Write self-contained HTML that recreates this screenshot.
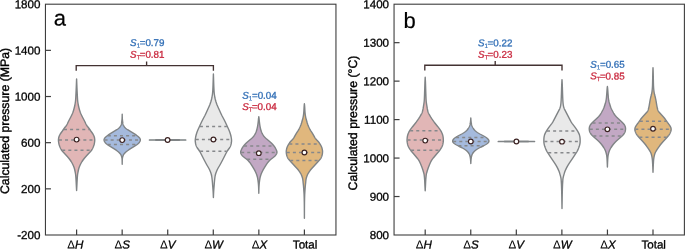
<!DOCTYPE html>
<html><head><meta charset="utf-8"><title>Violin plots</title>
<style>html,body{margin:0;padding:0;background:#fff}svg{display:block}</style></head>
<body>
<svg width="685" height="249" viewBox="0 0 685 249" font-family="'Liberation Sans', Arial, sans-serif" text-rendering="geometricPrecision">
<rect width="685" height="249" fill="#fff"/>
<path d="M76.60,79.00 L76.57,79.50 L76.56,80.00 L76.54,80.50 L76.52,81.00 L76.50,81.50 L76.48,82.00 L76.46,82.50 L76.44,83.00 L76.42,83.50 L76.40,84.00 L76.38,84.50 L76.36,85.00 L76.34,85.50 L76.32,86.00 L76.30,86.50 L76.28,87.00 L76.26,87.50 L76.24,88.00 L76.21,88.50 L76.19,89.00 L76.17,89.50 L76.15,90.00 L76.13,90.50 L76.10,91.00 L76.08,91.50 L76.05,92.00 L76.03,92.50 L76.00,93.00 L75.98,93.50 L75.95,94.00 L75.92,94.50 L75.90,95.00 L75.87,95.50 L75.85,96.00 L75.82,96.50 L75.80,97.00 L75.77,97.50 L75.74,98.00 L75.71,98.50 L75.68,99.00 L75.64,99.50 L75.60,100.00 L75.56,100.50 L75.51,101.00 L75.45,101.50 L75.38,102.00 L75.31,102.50 L75.24,103.00 L75.16,103.50 L75.07,104.00 L74.98,104.50 L74.88,105.00 L74.78,105.50 L74.68,106.00 L74.57,106.50 L74.45,107.00 L74.33,107.50 L74.21,108.00 L74.08,108.50 L73.95,109.00 L73.81,109.50 L73.67,110.00 L73.52,110.50 L73.36,111.00 L73.20,111.50 L73.03,112.00 L72.85,112.50 L72.65,113.00 L72.45,113.50 L72.23,114.00 L72.00,114.50 L71.77,115.00 L71.53,115.50 L71.28,116.00 L71.03,116.50 L70.78,117.00 L70.52,117.50 L70.26,118.00 L69.99,118.50 L69.73,119.00 L69.47,119.50 L69.21,120.00 L68.95,120.50 L68.69,121.00 L68.44,121.50 L68.20,122.00 L67.97,122.50 L67.75,123.00 L67.52,123.50 L67.28,124.00 L67.02,124.50 L66.73,125.00 L66.39,125.50 L66.03,126.00 L65.65,126.50 L65.25,127.00 L64.86,127.50 L64.48,128.00 L64.11,128.50 L63.76,129.00 L63.41,129.50 L63.07,130.00 L62.73,130.50 L62.39,131.00 L62.03,131.50 L61.67,132.00 L61.30,132.50 L60.94,133.00 L60.60,133.50 L60.28,134.00 L59.99,134.50 L59.73,135.00 L59.48,135.50 L59.26,136.00 L59.07,136.50 L58.91,137.00 L58.77,137.50 L58.66,138.00 L58.57,138.50 L58.51,139.00 L58.47,139.50 L58.45,140.00 L58.46,140.50 L58.49,141.00 L58.53,141.50 L58.59,142.00 L58.67,142.50 L58.75,143.00 L58.84,143.50 L58.95,144.00 L59.08,144.50 L59.22,145.00 L59.39,145.50 L59.57,146.00 L59.75,146.50 L59.95,147.00 L60.16,147.50 L60.39,148.00 L60.63,148.50 L60.89,149.00 L61.18,149.50 L61.50,150.00 L61.86,150.50 L62.26,151.00 L62.69,151.50 L63.14,152.00 L63.60,152.50 L64.07,153.00 L64.53,153.50 L65.00,154.00 L65.46,154.50 L65.93,155.00 L66.38,155.50 L66.84,156.00 L67.28,156.50 L67.72,157.00 L68.16,157.50 L68.58,158.00 L68.99,158.50 L69.38,159.00 L69.76,159.50 L70.13,160.00 L70.48,160.50 L70.81,161.00 L71.14,161.50 L71.45,162.00 L71.74,162.50 L72.03,163.00 L72.30,163.50 L72.56,164.00 L72.80,164.50 L73.04,165.00 L73.27,165.50 L73.49,166.00 L73.70,166.50 L73.89,167.00 L74.08,167.50 L74.24,168.00 L74.40,168.50 L74.53,169.00 L74.66,169.50 L74.77,170.00 L74.88,170.50 L74.98,171.00 L75.08,171.50 L75.18,172.00 L75.27,172.50 L75.37,173.00 L75.45,173.50 L75.53,174.00 L75.60,174.50 L75.67,175.00 L75.72,175.50 L75.76,176.00 L75.80,176.50 L75.84,177.00 L75.88,177.50 L75.91,178.00 L75.95,178.50 L75.98,179.00 L76.01,179.50 L76.04,180.00 L76.07,180.50 L76.10,181.00 L76.13,181.50 L76.15,182.00 L76.18,182.50 L76.20,183.00 L76.23,183.50 L76.25,184.00 L76.28,184.50 L76.30,185.00 L76.33,185.50 L76.35,186.00 L76.38,186.50 L76.40,187.00 L76.43,187.50 L76.46,188.00 L76.49,188.50 L76.51,189.00 L76.54,189.50 L76.56,190.00 L76.60,190.50 L76.60,190.50 L76.64,190.00 L76.66,189.50 L76.69,189.00 L76.71,188.50 L76.74,188.00 L76.77,187.50 L76.80,187.00 L76.82,186.50 L76.85,186.00 L76.87,185.50 L76.90,185.00 L76.92,184.50 L76.95,184.00 L76.97,183.50 L77.00,183.00 L77.02,182.50 L77.05,182.00 L77.07,181.50 L77.10,181.00 L77.13,180.50 L77.16,180.00 L77.19,179.50 L77.22,179.00 L77.25,178.50 L77.29,178.00 L77.32,177.50 L77.36,177.00 L77.40,176.50 L77.44,176.00 L77.48,175.50 L77.53,175.00 L77.60,174.50 L77.67,174.00 L77.75,173.50 L77.83,173.00 L77.93,172.50 L78.02,172.00 L78.12,171.50 L78.22,171.00 L78.32,170.50 L78.43,170.00 L78.54,169.50 L78.67,169.00 L78.80,168.50 L78.96,168.00 L79.12,167.50 L79.31,167.00 L79.50,166.50 L79.71,166.00 L79.93,165.50 L80.16,165.00 L80.40,164.50 L80.64,164.00 L80.90,163.50 L81.17,163.00 L81.46,162.50 L81.75,162.00 L82.06,161.50 L82.39,161.00 L82.72,160.50 L83.07,160.00 L83.44,159.50 L83.82,159.00 L84.21,158.50 L84.62,158.00 L85.04,157.50 L85.48,157.00 L85.92,156.50 L86.36,156.00 L86.82,155.50 L87.27,155.00 L87.74,154.50 L88.20,154.00 L88.67,153.50 L89.13,153.00 L89.60,152.50 L90.06,152.00 L90.51,151.50 L90.94,151.00 L91.34,150.50 L91.70,150.00 L92.02,149.50 L92.31,149.00 L92.57,148.50 L92.81,148.00 L93.04,147.50 L93.25,147.00 L93.45,146.50 L93.63,146.00 L93.81,145.50 L93.98,145.00 L94.12,144.50 L94.25,144.00 L94.36,143.50 L94.45,143.00 L94.53,142.50 L94.61,142.00 L94.67,141.50 L94.71,141.00 L94.74,140.50 L94.75,140.00 L94.73,139.50 L94.69,139.00 L94.63,138.50 L94.54,138.00 L94.43,137.50 L94.29,137.00 L94.13,136.50 L93.94,136.00 L93.72,135.50 L93.47,135.00 L93.21,134.50 L92.92,134.00 L92.60,133.50 L92.26,133.00 L91.90,132.50 L91.53,132.00 L91.17,131.50 L90.81,131.00 L90.47,130.50 L90.13,130.00 L89.79,129.50 L89.44,129.00 L89.09,128.50 L88.72,128.00 L88.34,127.50 L87.95,127.00 L87.55,126.50 L87.17,126.00 L86.81,125.50 L86.47,125.00 L86.18,124.50 L85.92,124.00 L85.68,123.50 L85.45,123.00 L85.23,122.50 L85.00,122.00 L84.76,121.50 L84.51,121.00 L84.25,120.50 L83.99,120.00 L83.73,119.50 L83.47,119.00 L83.21,118.50 L82.94,118.00 L82.68,117.50 L82.42,117.00 L82.17,116.50 L81.92,116.00 L81.67,115.50 L81.43,115.00 L81.20,114.50 L80.97,114.00 L80.75,113.50 L80.55,113.00 L80.35,112.50 L80.17,112.00 L80.00,111.50 L79.84,111.00 L79.68,110.50 L79.53,110.00 L79.39,109.50 L79.25,109.00 L79.12,108.50 L78.99,108.00 L78.87,107.50 L78.75,107.00 L78.63,106.50 L78.52,106.00 L78.42,105.50 L78.32,105.00 L78.22,104.50 L78.13,104.00 L78.04,103.50 L77.96,103.00 L77.89,102.50 L77.82,102.00 L77.75,101.50 L77.69,101.00 L77.64,100.50 L77.60,100.00 L77.56,99.50 L77.52,99.00 L77.49,98.50 L77.46,98.00 L77.43,97.50 L77.40,97.00 L77.38,96.50 L77.35,96.00 L77.33,95.50 L77.30,95.00 L77.28,94.50 L77.25,94.00 L77.22,93.50 L77.20,93.00 L77.17,92.50 L77.15,92.00 L77.12,91.50 L77.10,91.00 L77.07,90.50 L77.05,90.00 L77.03,89.50 L77.01,89.00 L76.99,88.50 L76.96,88.00 L76.94,87.50 L76.92,87.00 L76.90,86.50 L76.88,86.00 L76.86,85.50 L76.84,85.00 L76.82,84.50 L76.80,84.00 L76.78,83.50 L76.76,83.00 L76.74,82.50 L76.72,82.00 L76.70,81.50 L76.68,81.00 L76.66,80.50 L76.64,80.00 L76.63,79.50 L76.60,79.00Z" fill="#e1b6b6" stroke="#808486" stroke-width="1.4" stroke-linejoin="round"/>
<line x1="63.98" y1="129.40" x2="89.22" y2="129.40" stroke="#86888b" stroke-width="1.5" stroke-dasharray="3.0 3.1"/>
<line x1="58.95" y1="139.90" x2="94.25" y2="139.90" stroke="#86888b" stroke-width="1.5" stroke-dasharray="3.0 3.1"/>
<line x1="62.22" y1="150.30" x2="90.98" y2="150.30" stroke="#86888b" stroke-width="1.5" stroke-dasharray="3.0 3.1"/>
<circle cx="76.60" cy="139.60" r="2.35" fill="#fff" stroke="#3b2222" stroke-width="1.15"/>
<path d="M122.20,114.20 L122.19,114.70 L122.19,115.20 L122.17,115.70 L122.16,116.20 L122.15,116.70 L122.13,117.20 L122.11,117.70 L122.08,118.20 L122.05,118.70 L122.01,119.20 L121.97,119.70 L121.92,120.20 L121.87,120.70 L121.82,121.20 L121.76,121.70 L121.70,122.20 L121.63,122.70 L121.56,123.20 L121.47,123.70 L121.36,124.20 L121.21,124.70 L121.02,125.20 L120.77,125.70 L120.47,126.20 L120.12,126.70 L119.71,127.20 L119.25,127.70 L118.73,128.20 L118.15,128.70 L117.49,129.20 L116.77,129.70 L116.00,130.20 L115.21,130.70 L114.40,131.20 L113.59,131.70 L112.77,132.20 L111.94,132.70 L111.12,133.20 L110.32,133.70 L109.53,134.20 L108.76,134.70 L108.01,135.20 L107.30,135.70 L106.63,136.20 L106.03,136.70 L105.51,137.20 L105.06,137.70 L104.68,138.20 L104.38,138.70 L104.17,139.20 L104.05,139.70 L104.05,140.20 L104.15,140.70 L104.35,141.20 L104.62,141.70 L104.96,142.20 L105.35,142.70 L105.80,143.20 L106.32,143.70 L106.92,144.20 L107.57,144.70 L108.28,145.20 L109.02,145.70 L109.79,146.20 L110.57,146.70 L111.38,147.20 L112.20,147.70 L113.02,148.20 L113.83,148.70 L114.62,149.20 L115.40,149.70 L116.15,150.20 L116.87,150.70 L117.55,151.20 L118.18,151.70 L118.76,152.20 L119.27,152.70 L119.73,153.20 L120.14,153.70 L120.51,154.20 L120.83,154.70 L121.10,155.20 L121.32,155.70 L121.51,156.20 L121.66,156.70 L121.79,157.20 L121.89,157.70 L121.98,158.20 L122.04,158.70 L122.08,159.20 L122.11,159.70 L122.13,160.20 L122.15,160.70 L122.16,161.20 L122.17,161.70 L122.18,162.20 L122.19,162.70 L122.19,163.20 L122.20,163.70 L122.20,164.20 L122.20,164.20 L122.20,163.70 L122.21,163.20 L122.21,162.70 L122.22,162.20 L122.23,161.70 L122.24,161.20 L122.25,160.70 L122.27,160.20 L122.29,159.70 L122.32,159.20 L122.36,158.70 L122.42,158.20 L122.51,157.70 L122.61,157.20 L122.74,156.70 L122.89,156.20 L123.08,155.70 L123.30,155.20 L123.57,154.70 L123.89,154.20 L124.26,153.70 L124.67,153.20 L125.13,152.70 L125.64,152.20 L126.22,151.70 L126.85,151.20 L127.53,150.70 L128.25,150.20 L129.00,149.70 L129.78,149.20 L130.57,148.70 L131.38,148.20 L132.20,147.70 L133.02,147.20 L133.83,146.70 L134.61,146.20 L135.38,145.70 L136.12,145.20 L136.83,144.70 L137.48,144.20 L138.08,143.70 L138.60,143.20 L139.05,142.70 L139.44,142.20 L139.78,141.70 L140.05,141.20 L140.25,140.70 L140.35,140.20 L140.35,139.70 L140.23,139.20 L140.02,138.70 L139.72,138.20 L139.34,137.70 L138.89,137.20 L138.37,136.70 L137.77,136.20 L137.10,135.70 L136.39,135.20 L135.64,134.70 L134.87,134.20 L134.08,133.70 L133.28,133.20 L132.46,132.70 L131.63,132.20 L130.81,131.70 L130.00,131.20 L129.19,130.70 L128.40,130.20 L127.63,129.70 L126.91,129.20 L126.25,128.70 L125.67,128.20 L125.15,127.70 L124.69,127.20 L124.28,126.70 L123.93,126.20 L123.63,125.70 L123.38,125.20 L123.19,124.70 L123.04,124.20 L122.93,123.70 L122.84,123.20 L122.77,122.70 L122.70,122.20 L122.64,121.70 L122.58,121.20 L122.53,120.70 L122.48,120.20 L122.43,119.70 L122.39,119.20 L122.35,118.70 L122.32,118.20 L122.29,117.70 L122.27,117.20 L122.25,116.70 L122.24,116.20 L122.23,115.70 L122.21,115.20 L122.21,114.70 L122.20,114.20Z" fill="#a5badd" stroke="#808486" stroke-width="1.4" stroke-linejoin="round"/>
<line x1="107.80" y1="135.70" x2="136.60" y2="135.70" stroke="#86888b" stroke-width="1.5" stroke-dasharray="3.0 3.1"/>
<line x1="104.55" y1="140.10" x2="139.85" y2="140.10" stroke="#86888b" stroke-width="1.5" stroke-dasharray="3.0 3.1"/>
<line x1="107.81" y1="144.50" x2="136.59" y2="144.50" stroke="#86888b" stroke-width="1.5" stroke-dasharray="3.0 3.1"/>
<circle cx="122.20" cy="140.10" r="2.35" fill="#fff" stroke="#3b2222" stroke-width="1.15"/>
<path d="M149.45,139.85 L150.36,139.85 L151.26,139.85 L152.17,139.84 L153.08,139.84 L153.99,139.83 L154.89,139.83 L155.80,139.82 L156.71,139.80 L157.62,139.79 L158.53,139.77 L159.43,139.74 L160.34,139.72 L161.25,139.69 L162.16,139.66 L163.06,139.63 L163.97,139.61 L164.88,139.58 L165.78,139.57 L166.69,139.55 L167.60,139.55 L168.51,139.55 L169.41,139.57 L170.32,139.58 L171.23,139.61 L172.14,139.63 L173.04,139.66 L173.95,139.69 L174.86,139.72 L175.77,139.74 L176.67,139.77 L177.58,139.79 L178.49,139.80 L179.40,139.82 L180.31,139.83 L181.21,139.83 L182.12,139.84 L183.03,139.84 L183.94,139.85 L184.84,139.85 L185.75,139.85 L185.75,140.15 L184.84,140.15 L183.94,140.15 L183.03,140.16 L182.12,140.16 L181.21,140.17 L180.31,140.17 L179.40,140.18 L178.49,140.20 L177.58,140.21 L176.67,140.23 L175.77,140.26 L174.86,140.28 L173.95,140.31 L173.04,140.34 L172.14,140.37 L171.23,140.39 L170.32,140.42 L169.41,140.43 L168.51,140.45 L167.60,140.45 L166.69,140.45 L165.78,140.43 L164.88,140.42 L163.97,140.39 L163.06,140.37 L162.16,140.34 L161.25,140.31 L160.34,140.28 L159.43,140.26 L158.53,140.23 L157.62,140.21 L156.71,140.20 L155.80,140.18 L154.89,140.17 L153.99,140.17 L153.08,140.16 L152.17,140.16 L151.26,140.15 L150.36,140.15 L149.45,140.15Z" fill="#bfe0c8" stroke="#808486" stroke-width="1.4" stroke-linejoin="round"/>
<circle cx="167.60" cy="140.00" r="2.35" fill="#fff" stroke="#3b2222" stroke-width="1.15"/>
<path d="M213.40,74.00 L213.38,74.50 L213.36,75.00 L213.35,75.50 L213.33,76.00 L213.32,76.50 L213.30,77.00 L213.28,77.50 L213.27,78.00 L213.25,78.50 L213.23,79.00 L213.22,79.50 L213.20,80.00 L213.18,80.50 L213.17,81.00 L213.15,81.50 L213.14,82.00 L213.12,82.50 L213.11,83.00 L213.09,83.50 L213.07,84.00 L213.06,84.50 L213.04,85.00 L213.02,85.50 L213.00,86.00 L212.98,86.50 L212.96,87.00 L212.93,87.50 L212.91,88.00 L212.89,88.50 L212.86,89.00 L212.84,89.50 L212.81,90.00 L212.78,90.50 L212.75,91.00 L212.71,91.50 L212.67,92.00 L212.63,92.50 L212.59,93.00 L212.54,93.50 L212.48,94.00 L212.42,94.50 L212.34,95.00 L212.26,95.50 L212.18,96.00 L212.09,96.50 L212.00,97.00 L211.90,97.50 L211.79,98.00 L211.69,98.50 L211.57,99.00 L211.46,99.50 L211.33,100.00 L211.19,100.50 L211.05,101.00 L210.91,101.50 L210.75,102.00 L210.59,102.50 L210.43,103.00 L210.26,103.50 L210.08,104.00 L209.89,104.50 L209.70,105.00 L209.49,105.50 L209.28,106.00 L209.06,106.50 L208.84,107.00 L208.61,107.50 L208.38,108.00 L208.15,108.50 L207.92,109.00 L207.69,109.50 L207.47,110.00 L207.24,110.50 L207.02,111.00 L206.80,111.50 L206.57,112.00 L206.35,112.50 L206.12,113.00 L205.89,113.50 L205.66,114.00 L205.42,114.50 L205.17,115.00 L204.92,115.50 L204.67,116.00 L204.40,116.50 L204.14,117.00 L203.87,117.50 L203.60,118.00 L203.33,118.50 L203.06,119.00 L202.80,119.50 L202.54,120.00 L202.29,120.50 L202.04,121.00 L201.79,121.50 L201.55,122.00 L201.31,122.50 L201.08,123.00 L200.84,123.50 L200.61,124.00 L200.38,124.50 L200.15,125.00 L199.92,125.50 L199.70,126.00 L199.47,126.50 L199.24,127.00 L199.01,127.50 L198.77,128.00 L198.54,128.50 L198.31,129.00 L198.09,129.50 L197.87,130.00 L197.66,130.50 L197.45,131.00 L197.26,131.50 L197.08,132.00 L196.90,132.50 L196.74,133.00 L196.58,133.50 L196.42,134.00 L196.27,134.50 L196.13,135.00 L196.00,135.50 L195.88,136.00 L195.77,136.50 L195.67,137.00 L195.58,137.50 L195.49,138.00 L195.42,138.50 L195.35,139.00 L195.30,139.50 L195.26,140.00 L195.25,140.50 L195.26,141.00 L195.29,141.50 L195.34,142.00 L195.41,142.50 L195.49,143.00 L195.59,143.50 L195.70,144.00 L195.83,144.50 L195.96,145.00 L196.11,145.50 L196.29,146.00 L196.51,146.50 L196.76,147.00 L197.05,147.50 L197.38,148.00 L197.73,148.50 L198.09,149.00 L198.45,149.50 L198.81,150.00 L199.15,150.50 L199.47,151.00 L199.78,151.50 L200.07,152.00 L200.34,152.50 L200.61,153.00 L200.88,153.50 L201.14,154.00 L201.40,154.50 L201.65,155.00 L201.90,155.50 L202.16,156.00 L202.41,156.50 L202.66,157.00 L202.91,157.50 L203.17,158.00 L203.42,158.50 L203.68,159.00 L203.94,159.50 L204.20,160.00 L204.46,160.50 L204.73,161.00 L204.99,161.50 L205.25,162.00 L205.52,162.50 L205.78,163.00 L206.05,163.50 L206.32,164.00 L206.60,164.50 L206.88,165.00 L207.17,165.50 L207.46,166.00 L207.76,166.50 L208.06,167.00 L208.36,167.50 L208.65,168.00 L208.92,168.50 L209.19,169.00 L209.44,169.50 L209.67,170.00 L209.89,170.50 L210.11,171.00 L210.31,171.50 L210.51,172.00 L210.70,172.50 L210.88,173.00 L211.05,173.50 L211.20,174.00 L211.34,174.50 L211.47,175.00 L211.57,175.50 L211.67,176.00 L211.76,176.50 L211.83,177.00 L211.90,177.50 L211.97,178.00 L212.03,178.50 L212.09,179.00 L212.14,179.50 L212.20,180.00 L212.25,180.50 L212.29,181.00 L212.34,181.50 L212.39,182.00 L212.43,182.50 L212.47,183.00 L212.51,183.50 L212.55,184.00 L212.58,184.50 L212.62,185.00 L212.66,185.50 L212.70,186.00 L212.74,186.50 L212.78,187.00 L212.83,187.50 L212.87,188.00 L212.91,188.50 L212.95,189.00 L212.99,189.50 L213.03,190.00 L213.06,190.50 L213.10,191.00 L213.13,191.50 L213.15,192.00 L213.18,192.50 L213.21,193.00 L213.23,193.50 L213.26,194.00 L213.28,194.50 L213.30,195.00 L213.32,195.50 L213.34,196.00 L213.36,196.50 L213.37,197.00 L213.40,197.50 L213.40,197.50 L213.43,197.00 L213.44,196.50 L213.46,196.00 L213.48,195.50 L213.50,195.00 L213.52,194.50 L213.54,194.00 L213.57,193.50 L213.59,193.00 L213.62,192.50 L213.65,192.00 L213.67,191.50 L213.70,191.00 L213.74,190.50 L213.77,190.00 L213.81,189.50 L213.85,189.00 L213.89,188.50 L213.93,188.00 L213.97,187.50 L214.02,187.00 L214.06,186.50 L214.10,186.00 L214.14,185.50 L214.18,185.00 L214.22,184.50 L214.25,184.00 L214.29,183.50 L214.33,183.00 L214.37,182.50 L214.41,182.00 L214.46,181.50 L214.51,181.00 L214.55,180.50 L214.60,180.00 L214.66,179.50 L214.71,179.00 L214.77,178.50 L214.83,178.00 L214.90,177.50 L214.97,177.00 L215.04,176.50 L215.13,176.00 L215.23,175.50 L215.33,175.00 L215.46,174.50 L215.60,174.00 L215.75,173.50 L215.92,173.00 L216.10,172.50 L216.29,172.00 L216.49,171.50 L216.69,171.00 L216.91,170.50 L217.13,170.00 L217.36,169.50 L217.61,169.00 L217.88,168.50 L218.15,168.00 L218.44,167.50 L218.74,167.00 L219.04,166.50 L219.34,166.00 L219.63,165.50 L219.92,165.00 L220.20,164.50 L220.48,164.00 L220.75,163.50 L221.02,163.00 L221.28,162.50 L221.55,162.00 L221.81,161.50 L222.07,161.00 L222.34,160.50 L222.60,160.00 L222.86,159.50 L223.12,159.00 L223.38,158.50 L223.63,158.00 L223.89,157.50 L224.14,157.00 L224.39,156.50 L224.64,156.00 L224.90,155.50 L225.15,155.00 L225.40,154.50 L225.66,154.00 L225.92,153.50 L226.19,153.00 L226.46,152.50 L226.73,152.00 L227.02,151.50 L227.33,151.00 L227.65,150.50 L227.99,150.00 L228.35,149.50 L228.71,149.00 L229.07,148.50 L229.42,148.00 L229.75,147.50 L230.04,147.00 L230.29,146.50 L230.51,146.00 L230.69,145.50 L230.84,145.00 L230.97,144.50 L231.10,144.00 L231.21,143.50 L231.31,143.00 L231.39,142.50 L231.46,142.00 L231.51,141.50 L231.54,141.00 L231.55,140.50 L231.54,140.00 L231.50,139.50 L231.45,139.00 L231.38,138.50 L231.31,138.00 L231.22,137.50 L231.13,137.00 L231.03,136.50 L230.92,136.00 L230.80,135.50 L230.67,135.00 L230.53,134.50 L230.38,134.00 L230.22,133.50 L230.06,133.00 L229.90,132.50 L229.72,132.00 L229.54,131.50 L229.35,131.00 L229.14,130.50 L228.93,130.00 L228.71,129.50 L228.49,129.00 L228.26,128.50 L228.03,128.00 L227.79,127.50 L227.56,127.00 L227.33,126.50 L227.10,126.00 L226.88,125.50 L226.65,125.00 L226.42,124.50 L226.19,124.00 L225.96,123.50 L225.72,123.00 L225.49,122.50 L225.25,122.00 L225.01,121.50 L224.76,121.00 L224.51,120.50 L224.26,120.00 L224.00,119.50 L223.74,119.00 L223.47,118.50 L223.20,118.00 L222.93,117.50 L222.66,117.00 L222.40,116.50 L222.13,116.00 L221.88,115.50 L221.63,115.00 L221.38,114.50 L221.14,114.00 L220.91,113.50 L220.68,113.00 L220.45,112.50 L220.23,112.00 L220.00,111.50 L219.78,111.00 L219.56,110.50 L219.33,110.00 L219.11,109.50 L218.88,109.00 L218.65,108.50 L218.42,108.00 L218.19,107.50 L217.96,107.00 L217.74,106.50 L217.52,106.00 L217.31,105.50 L217.10,105.00 L216.91,104.50 L216.72,104.00 L216.54,103.50 L216.37,103.00 L216.21,102.50 L216.05,102.00 L215.89,101.50 L215.75,101.00 L215.61,100.50 L215.47,100.00 L215.34,99.50 L215.23,99.00 L215.11,98.50 L215.01,98.00 L214.90,97.50 L214.80,97.00 L214.71,96.50 L214.62,96.00 L214.54,95.50 L214.46,95.00 L214.38,94.50 L214.32,94.00 L214.26,93.50 L214.21,93.00 L214.17,92.50 L214.13,92.00 L214.09,91.50 L214.05,91.00 L214.02,90.50 L213.99,90.00 L213.96,89.50 L213.94,89.00 L213.91,88.50 L213.89,88.00 L213.87,87.50 L213.84,87.00 L213.82,86.50 L213.80,86.00 L213.78,85.50 L213.76,85.00 L213.74,84.50 L213.73,84.00 L213.71,83.50 L213.69,83.00 L213.68,82.50 L213.66,82.00 L213.65,81.50 L213.63,81.00 L213.62,80.50 L213.60,80.00 L213.58,79.50 L213.57,79.00 L213.55,78.50 L213.53,78.00 L213.52,77.50 L213.50,77.00 L213.48,76.50 L213.47,76.00 L213.45,75.50 L213.44,75.00 L213.42,74.50 L213.40,74.00Z" fill="#e9e9e9" stroke="#808486" stroke-width="1.4" stroke-linejoin="round"/>
<line x1="199.92" y1="126.60" x2="226.88" y2="126.60" stroke="#86888b" stroke-width="1.5" stroke-dasharray="3.0 3.1"/>
<line x1="195.79" y1="139.60" x2="231.01" y2="139.60" stroke="#86888b" stroke-width="1.5" stroke-dasharray="3.0 3.1"/>
<line x1="200.10" y1="151.20" x2="226.70" y2="151.20" stroke="#86888b" stroke-width="1.5" stroke-dasharray="3.0 3.1"/>
<circle cx="213.40" cy="139.50" r="2.35" fill="#fff" stroke="#3b2222" stroke-width="1.15"/>
<path d="M258.80,116.70 L258.71,117.20 L258.66,117.70 L258.60,118.20 L258.54,118.70 L258.48,119.20 L258.43,119.70 L258.38,120.20 L258.33,120.70 L258.27,121.20 L258.22,121.70 L258.17,122.20 L258.11,122.70 L258.05,123.20 L257.99,123.70 L257.93,124.20 L257.86,124.70 L257.78,125.20 L257.70,125.70 L257.61,126.20 L257.52,126.70 L257.42,127.20 L257.31,127.70 L257.20,128.20 L257.08,128.70 L256.95,129.20 L256.81,129.70 L256.66,130.20 L256.50,130.70 L256.33,131.20 L256.16,131.70 L255.97,132.20 L255.76,132.70 L255.54,133.20 L255.31,133.70 L255.04,134.20 L254.75,134.70 L254.42,135.20 L254.06,135.70 L253.67,136.20 L253.24,136.70 L252.78,137.20 L252.29,137.70 L251.77,138.20 L251.22,138.70 L250.64,139.20 L250.04,139.70 L249.45,140.20 L248.85,140.70 L248.26,141.20 L247.68,141.70 L247.11,142.20 L246.56,142.70 L246.03,143.20 L245.54,143.70 L245.07,144.20 L244.63,144.70 L244.21,145.20 L243.82,145.70 L243.45,146.20 L243.10,146.70 L242.77,147.20 L242.45,147.70 L242.15,148.20 L241.88,148.70 L241.62,149.20 L241.38,149.70 L241.16,150.20 L240.96,150.70 L240.80,151.20 L240.69,151.70 L240.65,152.20 L240.69,152.70 L240.80,153.20 L240.99,153.70 L241.24,154.20 L241.56,154.70 L241.93,155.20 L242.37,155.70 L242.88,156.20 L243.44,156.70 L244.05,157.20 L244.68,157.70 L245.34,158.20 L246.00,158.70 L246.65,159.20 L247.25,159.70 L247.81,160.20 L248.30,160.70 L248.75,161.20 L249.16,161.70 L249.55,162.20 L249.92,162.70 L250.27,163.20 L250.61,163.70 L250.95,164.20 L251.27,164.70 L251.59,165.20 L251.91,165.70 L252.22,166.20 L252.54,166.70 L252.85,167.20 L253.15,167.70 L253.46,168.20 L253.75,168.70 L254.05,169.20 L254.33,169.70 L254.62,170.20 L254.89,170.70 L255.15,171.20 L255.41,171.70 L255.65,172.20 L255.88,172.70 L256.10,173.20 L256.31,173.70 L256.51,174.20 L256.69,174.70 L256.86,175.20 L257.01,175.70 L257.15,176.20 L257.28,176.70 L257.40,177.20 L257.51,177.70 L257.61,178.20 L257.71,178.70 L257.79,179.20 L257.87,179.70 L257.95,180.20 L258.02,180.70 L258.09,181.20 L258.15,181.70 L258.22,182.20 L258.28,182.70 L258.33,183.20 L258.38,183.70 L258.43,184.20 L258.47,184.70 L258.50,185.20 L258.53,185.70 L258.56,186.20 L258.59,186.70 L258.61,187.20 L258.64,187.70 L258.66,188.20 L258.68,188.70 L258.70,189.20 L258.72,189.70 L258.74,190.20 L258.75,190.70 L258.77,191.20 L258.78,191.70 L258.79,192.20 L258.79,192.70 L258.80,193.20 L258.80,193.20 L258.81,192.70 L258.81,192.20 L258.82,191.70 L258.83,191.20 L258.85,190.70 L258.86,190.20 L258.88,189.70 L258.90,189.20 L258.92,188.70 L258.94,188.20 L258.96,187.70 L258.99,187.20 L259.01,186.70 L259.04,186.20 L259.07,185.70 L259.10,185.20 L259.13,184.70 L259.17,184.20 L259.22,183.70 L259.27,183.20 L259.32,182.70 L259.38,182.20 L259.45,181.70 L259.51,181.20 L259.58,180.70 L259.65,180.20 L259.73,179.70 L259.81,179.20 L259.89,178.70 L259.99,178.20 L260.09,177.70 L260.20,177.20 L260.32,176.70 L260.45,176.20 L260.59,175.70 L260.74,175.20 L260.91,174.70 L261.09,174.20 L261.29,173.70 L261.50,173.20 L261.72,172.70 L261.95,172.20 L262.19,171.70 L262.45,171.20 L262.71,170.70 L262.98,170.20 L263.27,169.70 L263.55,169.20 L263.85,168.70 L264.14,168.20 L264.45,167.70 L264.75,167.20 L265.06,166.70 L265.38,166.20 L265.69,165.70 L266.01,165.20 L266.33,164.70 L266.65,164.20 L266.99,163.70 L267.33,163.20 L267.68,162.70 L268.05,162.20 L268.44,161.70 L268.85,161.20 L269.30,160.70 L269.79,160.20 L270.35,159.70 L270.95,159.20 L271.60,158.70 L272.26,158.20 L272.92,157.70 L273.55,157.20 L274.16,156.70 L274.72,156.20 L275.23,155.70 L275.67,155.20 L276.04,154.70 L276.36,154.20 L276.61,153.70 L276.80,153.20 L276.91,152.70 L276.95,152.20 L276.91,151.70 L276.80,151.20 L276.64,150.70 L276.44,150.20 L276.22,149.70 L275.98,149.20 L275.72,148.70 L275.45,148.20 L275.15,147.70 L274.83,147.20 L274.50,146.70 L274.15,146.20 L273.78,145.70 L273.39,145.20 L272.97,144.70 L272.53,144.20 L272.06,143.70 L271.57,143.20 L271.04,142.70 L270.49,142.20 L269.92,141.70 L269.34,141.20 L268.75,140.70 L268.15,140.20 L267.56,139.70 L266.96,139.20 L266.38,138.70 L265.83,138.20 L265.31,137.70 L264.82,137.20 L264.36,136.70 L263.93,136.20 L263.54,135.70 L263.18,135.20 L262.85,134.70 L262.56,134.20 L262.29,133.70 L262.06,133.20 L261.84,132.70 L261.63,132.20 L261.44,131.70 L261.27,131.20 L261.10,130.70 L260.94,130.20 L260.79,129.70 L260.65,129.20 L260.52,128.70 L260.40,128.20 L260.29,127.70 L260.18,127.20 L260.08,126.70 L259.99,126.20 L259.90,125.70 L259.82,125.20 L259.74,124.70 L259.67,124.20 L259.61,123.70 L259.55,123.20 L259.49,122.70 L259.43,122.20 L259.38,121.70 L259.33,121.20 L259.27,120.70 L259.22,120.20 L259.17,119.70 L259.12,119.20 L259.06,118.70 L259.00,118.20 L258.94,117.70 L258.89,117.20 L258.80,116.70Z" fill="#c2a8c4" stroke="#808486" stroke-width="1.4" stroke-linejoin="round"/>
<line x1="244.10" y1="146.00" x2="273.50" y2="146.00" stroke="#86888b" stroke-width="1.5" stroke-dasharray="3.0 3.1"/>
<line x1="241.18" y1="152.60" x2="276.42" y2="152.60" stroke="#86888b" stroke-width="1.5" stroke-dasharray="3.0 3.1"/>
<line x1="247.15" y1="159.20" x2="270.45" y2="159.20" stroke="#86888b" stroke-width="1.5" stroke-dasharray="3.0 3.1"/>
<circle cx="258.80" cy="153.20" r="2.35" fill="#fff" stroke="#3b2222" stroke-width="1.15"/>
<path d="M304.40,103.80 L304.33,104.30 L304.29,104.80 L304.24,105.30 L304.20,105.80 L304.16,106.30 L304.12,106.80 L304.09,107.30 L304.06,107.80 L304.03,108.30 L304.01,108.80 L303.98,109.30 L303.96,109.80 L303.93,110.30 L303.90,110.80 L303.87,111.30 L303.83,111.80 L303.79,112.30 L303.74,112.80 L303.69,113.30 L303.64,113.80 L303.58,114.30 L303.51,114.80 L303.44,115.30 L303.36,115.80 L303.27,116.30 L303.18,116.80 L303.08,117.30 L302.97,117.80 L302.85,118.30 L302.73,118.80 L302.60,119.30 L302.46,119.80 L302.32,120.30 L302.19,120.80 L302.05,121.30 L301.91,121.80 L301.77,122.30 L301.63,122.80 L301.47,123.30 L301.31,123.80 L301.14,124.30 L300.95,124.80 L300.76,125.30 L300.56,125.80 L300.35,126.30 L300.13,126.80 L299.89,127.30 L299.65,127.80 L299.39,128.30 L299.13,128.80 L298.85,129.30 L298.56,129.80 L298.26,130.30 L297.95,130.80 L297.62,131.30 L297.30,131.80 L296.98,132.30 L296.66,132.80 L296.35,133.30 L296.05,133.80 L295.75,134.30 L295.46,134.80 L295.18,135.30 L294.90,135.80 L294.62,136.30 L294.35,136.80 L294.07,137.30 L293.78,137.80 L293.46,138.30 L293.11,138.80 L292.70,139.30 L292.26,139.80 L291.78,140.30 L291.30,140.80 L290.83,141.30 L290.38,141.80 L289.97,142.30 L289.58,142.80 L289.23,143.30 L288.90,143.80 L288.59,144.30 L288.30,144.80 L288.03,145.30 L287.78,145.80 L287.54,146.30 L287.32,146.80 L287.12,147.30 L286.94,147.80 L286.78,148.30 L286.65,148.80 L286.53,149.30 L286.42,149.80 L286.34,150.30 L286.28,150.80 L286.25,151.30 L286.25,151.80 L286.27,152.30 L286.31,152.80 L286.37,153.30 L286.44,153.80 L286.52,154.30 L286.62,154.80 L286.73,155.30 L286.87,155.80 L287.03,156.30 L287.22,156.80 L287.43,157.30 L287.68,157.80 L287.98,158.30 L288.32,158.80 L288.70,159.30 L289.11,159.80 L289.53,160.30 L289.97,160.80 L290.40,161.30 L290.85,161.80 L291.30,162.30 L291.76,162.80 L292.22,163.30 L292.67,163.80 L293.13,164.30 L293.58,164.80 L294.03,165.30 L294.49,165.80 L294.94,166.30 L295.40,166.80 L295.87,167.30 L296.34,167.80 L296.80,168.30 L297.26,168.80 L297.71,169.30 L298.13,169.80 L298.54,170.30 L298.92,170.80 L299.29,171.30 L299.64,171.80 L299.97,172.30 L300.28,172.80 L300.57,173.30 L300.83,173.80 L301.08,174.30 L301.31,174.80 L301.52,175.30 L301.73,175.80 L301.91,176.30 L302.09,176.80 L302.26,177.30 L302.41,177.80 L302.55,178.30 L302.67,178.80 L302.76,179.30 L302.84,179.80 L302.90,180.30 L302.95,180.80 L303.00,181.30 L303.05,181.80 L303.09,182.30 L303.14,182.80 L303.20,183.30 L303.25,183.80 L303.31,184.30 L303.36,184.80 L303.41,185.30 L303.46,185.80 L303.51,186.30 L303.55,186.80 L303.59,187.30 L303.63,187.80 L303.67,188.30 L303.71,188.80 L303.74,189.30 L303.78,189.80 L303.82,190.30 L303.85,190.80 L303.89,191.30 L303.92,191.80 L303.95,192.30 L303.99,192.80 L304.01,193.30 L304.04,193.80 L304.07,194.30 L304.09,194.80 L304.11,195.30 L304.13,195.80 L304.14,196.30 L304.16,196.80 L304.18,197.30 L304.19,197.80 L304.21,198.30 L304.22,198.80 L304.23,199.30 L304.24,199.80 L304.25,200.30 L304.26,200.80 L304.27,201.30 L304.28,201.80 L304.29,202.30 L304.30,202.80 L304.30,203.30 L304.31,203.80 L304.31,204.30 L304.32,204.80 L304.32,205.30 L304.33,205.80 L304.33,206.30 L304.34,206.80 L304.34,207.30 L304.35,207.80 L304.35,208.30 L304.36,208.80 L304.36,209.30 L304.36,209.80 L304.37,210.30 L304.37,210.80 L304.37,211.30 L304.38,211.80 L304.38,212.30 L304.38,212.80 L304.39,213.30 L304.39,213.80 L304.39,214.30 L304.39,214.80 L304.39,215.30 L304.40,215.80 L304.40,216.30 L304.40,216.80 L304.40,217.30 L304.40,217.80 L304.40,218.30 L304.40,218.30 L304.40,217.80 L304.40,217.30 L304.40,216.80 L304.40,216.30 L304.40,215.80 L304.41,215.30 L304.41,214.80 L304.41,214.30 L304.41,213.80 L304.41,213.30 L304.42,212.80 L304.42,212.30 L304.42,211.80 L304.43,211.30 L304.43,210.80 L304.43,210.30 L304.44,209.80 L304.44,209.30 L304.44,208.80 L304.45,208.30 L304.45,207.80 L304.46,207.30 L304.46,206.80 L304.47,206.30 L304.47,205.80 L304.48,205.30 L304.48,204.80 L304.49,204.30 L304.49,203.80 L304.50,203.30 L304.50,202.80 L304.51,202.30 L304.52,201.80 L304.53,201.30 L304.54,200.80 L304.55,200.30 L304.56,199.80 L304.57,199.30 L304.58,198.80 L304.59,198.30 L304.61,197.80 L304.62,197.30 L304.64,196.80 L304.66,196.30 L304.67,195.80 L304.69,195.30 L304.71,194.80 L304.73,194.30 L304.76,193.80 L304.79,193.30 L304.81,192.80 L304.85,192.30 L304.88,191.80 L304.91,191.30 L304.95,190.80 L304.98,190.30 L305.02,189.80 L305.06,189.30 L305.09,188.80 L305.13,188.30 L305.17,187.80 L305.21,187.30 L305.25,186.80 L305.29,186.30 L305.34,185.80 L305.39,185.30 L305.44,184.80 L305.49,184.30 L305.55,183.80 L305.60,183.30 L305.66,182.80 L305.71,182.30 L305.75,181.80 L305.80,181.30 L305.85,180.80 L305.90,180.30 L305.96,179.80 L306.04,179.30 L306.13,178.80 L306.25,178.30 L306.39,177.80 L306.54,177.30 L306.71,176.80 L306.89,176.30 L307.07,175.80 L307.28,175.30 L307.49,174.80 L307.72,174.30 L307.97,173.80 L308.23,173.30 L308.52,172.80 L308.83,172.30 L309.16,171.80 L309.51,171.30 L309.88,170.80 L310.26,170.30 L310.67,169.80 L311.09,169.30 L311.54,168.80 L312.00,168.30 L312.46,167.80 L312.93,167.30 L313.40,166.80 L313.86,166.30 L314.31,165.80 L314.77,165.30 L315.22,164.80 L315.67,164.30 L316.13,163.80 L316.58,163.30 L317.04,162.80 L317.50,162.30 L317.95,161.80 L318.40,161.30 L318.83,160.80 L319.27,160.30 L319.69,159.80 L320.10,159.30 L320.48,158.80 L320.82,158.30 L321.12,157.80 L321.37,157.30 L321.58,156.80 L321.77,156.30 L321.93,155.80 L322.07,155.30 L322.18,154.80 L322.28,154.30 L322.36,153.80 L322.43,153.30 L322.49,152.80 L322.53,152.30 L322.55,151.80 L322.55,151.30 L322.52,150.80 L322.46,150.30 L322.38,149.80 L322.27,149.30 L322.15,148.80 L322.02,148.30 L321.86,147.80 L321.68,147.30 L321.48,146.80 L321.26,146.30 L321.02,145.80 L320.77,145.30 L320.50,144.80 L320.21,144.30 L319.90,143.80 L319.57,143.30 L319.22,142.80 L318.83,142.30 L318.42,141.80 L317.97,141.30 L317.50,140.80 L317.02,140.30 L316.54,139.80 L316.10,139.30 L315.69,138.80 L315.34,138.30 L315.02,137.80 L314.73,137.30 L314.45,136.80 L314.18,136.30 L313.90,135.80 L313.62,135.30 L313.34,134.80 L313.05,134.30 L312.75,133.80 L312.45,133.30 L312.14,132.80 L311.82,132.30 L311.50,131.80 L311.18,131.30 L310.85,130.80 L310.54,130.30 L310.24,129.80 L309.95,129.30 L309.67,128.80 L309.41,128.30 L309.15,127.80 L308.91,127.30 L308.67,126.80 L308.45,126.30 L308.24,125.80 L308.04,125.30 L307.85,124.80 L307.66,124.30 L307.49,123.80 L307.33,123.30 L307.17,122.80 L307.03,122.30 L306.89,121.80 L306.75,121.30 L306.61,120.80 L306.48,120.30 L306.34,119.80 L306.20,119.30 L306.07,118.80 L305.95,118.30 L305.83,117.80 L305.72,117.30 L305.62,116.80 L305.53,116.30 L305.44,115.80 L305.36,115.30 L305.29,114.80 L305.22,114.30 L305.16,113.80 L305.11,113.30 L305.06,112.80 L305.01,112.30 L304.97,111.80 L304.93,111.30 L304.90,110.80 L304.87,110.30 L304.84,109.80 L304.82,109.30 L304.79,108.80 L304.77,108.30 L304.74,107.80 L304.71,107.30 L304.68,106.80 L304.64,106.30 L304.60,105.80 L304.56,105.30 L304.51,104.80 L304.47,104.30 L304.40,103.80Z" fill="#e0b77d" stroke="#808486" stroke-width="1.4" stroke-linejoin="round"/>
<line x1="289.34" y1="143.90" x2="319.46" y2="143.90" stroke="#86888b" stroke-width="1.5" stroke-dasharray="3.0 3.1"/>
<line x1="286.78" y1="152.40" x2="322.02" y2="152.40" stroke="#86888b" stroke-width="1.5" stroke-dasharray="3.0 3.1"/>
<line x1="290.21" y1="160.50" x2="318.59" y2="160.50" stroke="#86888b" stroke-width="1.5" stroke-dasharray="3.0 3.1"/>
<circle cx="304.40" cy="152.50" r="2.35" fill="#fff" stroke="#3b2222" stroke-width="1.15"/>
<rect x="45.45" y="4.2" width="290.5" height="230.8" fill="none" stroke="#3e3e3e" stroke-width="1.1"/>
<line x1="76.60" y1="235.0" x2="76.60" y2="229.5" stroke="#3e3e3e" stroke-width="1.2"/>
<line x1="122.16" y1="235.0" x2="122.16" y2="229.5" stroke="#3e3e3e" stroke-width="1.2"/>
<line x1="167.72" y1="235.0" x2="167.72" y2="229.5" stroke="#3e3e3e" stroke-width="1.2"/>
<line x1="213.28" y1="235.0" x2="213.28" y2="229.5" stroke="#3e3e3e" stroke-width="1.2"/>
<line x1="258.84" y1="235.0" x2="258.84" y2="229.5" stroke="#3e3e3e" stroke-width="1.2"/>
<line x1="304.40" y1="235.0" x2="304.40" y2="229.5" stroke="#3e3e3e" stroke-width="1.2"/>
<text x="40.45" y="8.35" font-size="11.6" text-anchor="end" fill="#000" stroke="#000" stroke-width="0.3" transform="rotate(0.1 40.45 8.35)">1800</text>
<line x1="45.45" y1="50.36" x2="50.95" y2="50.36" stroke="#3e3e3e" stroke-width="1.2"/>
<text x="40.45" y="54.51" font-size="11.6" text-anchor="end" fill="#000" stroke="#000" stroke-width="0.3" transform="rotate(0.1 40.45 54.51)">1400</text>
<line x1="45.45" y1="96.52" x2="50.95" y2="96.52" stroke="#3e3e3e" stroke-width="1.2"/>
<text x="40.45" y="100.67" font-size="11.6" text-anchor="end" fill="#000" stroke="#000" stroke-width="0.3" transform="rotate(0.1 40.45 100.67)">1000</text>
<line x1="45.45" y1="142.68" x2="50.95" y2="142.68" stroke="#3e3e3e" stroke-width="1.2"/>
<text x="40.45" y="146.83" font-size="11.6" text-anchor="end" fill="#000" stroke="#000" stroke-width="0.3" transform="rotate(0.1 40.45 146.83)">600</text>
<line x1="45.45" y1="188.84" x2="50.95" y2="188.84" stroke="#3e3e3e" stroke-width="1.2"/>
<text x="40.45" y="192.99" font-size="11.6" text-anchor="end" fill="#000" stroke="#000" stroke-width="0.3" transform="rotate(0.1 40.45 192.99)">200</text>
<text x="40.45" y="239.15" font-size="11.6" text-anchor="end" fill="#000" stroke="#000" stroke-width="0.3" transform="rotate(0.1 40.45 239.15)">-200</text>
<text x="75.20" y="248.50" font-size="11.6" text-anchor="middle" fill="#000" stroke="#000" stroke-width="0.3" transform="rotate(0.1 75.20 248.50)"><tspan stroke-width="0.05">Δ</tspan><tspan font-style="italic">H</tspan></text>
<text x="122.36" y="248.50" font-size="11.6" text-anchor="middle" fill="#000" stroke="#000" stroke-width="0.3" transform="rotate(0.1 122.36 248.50)"><tspan stroke-width="0.05">Δ</tspan><tspan font-style="italic">S</tspan></text>
<text x="167.72" y="248.50" font-size="11.6" text-anchor="middle" fill="#000" stroke="#000" stroke-width="0.3" transform="rotate(0.1 167.72 248.50)"><tspan stroke-width="0.05">Δ</tspan><tspan font-style="italic">V</tspan></text>
<text x="213.73" y="248.50" font-size="11.6" text-anchor="middle" fill="#000" stroke="#000" stroke-width="0.3" transform="rotate(0.1 213.73 248.50)"><tspan stroke-width="0.05">Δ</tspan><tspan font-style="italic">W</tspan></text>
<text x="259.49" y="248.50" font-size="11.6" text-anchor="middle" fill="#000" stroke="#000" stroke-width="0.3" transform="rotate(0.1 259.49 248.50)"><tspan stroke-width="0.05">Δ</tspan><tspan font-style="italic">X</tspan></text>
<text x="305.10" y="248.50" font-size="11.6" text-anchor="middle" fill="#000" stroke="#000" stroke-width="0.3" transform="rotate(0.1 305.10 248.50)">Total</text>
<text transform="translate(9.0,120.95) rotate(-90)" font-size="12.3" text-anchor="middle" fill="#000" stroke="#000" stroke-width="0.38">Calculated pressure (MPa)</text>
<text x="53.85" y="25.50" font-size="22" text-anchor="start" fill="#000" stroke="#000" stroke-width="0.2" transform="rotate(0.1 53.85 25.50)">a</text>
<path d="M425.20,77.20 L425.16,77.70 L425.14,78.20 L425.11,78.70 L425.09,79.20 L425.06,79.70 L425.03,80.20 L425.01,80.70 L424.99,81.20 L424.96,81.70 L424.94,82.20 L424.92,82.70 L424.91,83.20 L424.89,83.70 L424.87,84.20 L424.85,84.70 L424.84,85.20 L424.82,85.70 L424.81,86.20 L424.79,86.70 L424.77,87.20 L424.76,87.70 L424.74,88.20 L424.73,88.70 L424.71,89.20 L424.69,89.70 L424.68,90.20 L424.66,90.70 L424.65,91.20 L424.63,91.70 L424.61,92.20 L424.59,92.70 L424.58,93.20 L424.56,93.70 L424.54,94.20 L424.52,94.70 L424.51,95.20 L424.49,95.70 L424.47,96.20 L424.45,96.70 L424.43,97.20 L424.41,97.70 L424.39,98.20 L424.37,98.70 L424.34,99.20 L424.31,99.70 L424.28,100.20 L424.24,100.70 L424.20,101.20 L424.15,101.70 L424.10,102.20 L424.04,102.70 L423.97,103.20 L423.90,103.70 L423.83,104.20 L423.75,104.70 L423.67,105.20 L423.58,105.70 L423.50,106.20 L423.42,106.70 L423.34,107.20 L423.26,107.70 L423.18,108.20 L423.10,108.70 L423.00,109.20 L422.90,109.70 L422.79,110.20 L422.67,110.70 L422.54,111.20 L422.39,111.70 L422.23,112.20 L422.04,112.70 L421.83,113.20 L421.60,113.70 L421.35,114.20 L421.08,114.70 L420.81,115.20 L420.53,115.70 L420.24,116.20 L419.94,116.70 L419.64,117.20 L419.32,117.70 L419.00,118.20 L418.68,118.70 L418.34,119.20 L418.00,119.70 L417.65,120.20 L417.29,120.70 L416.92,121.20 L416.54,121.70 L416.16,122.20 L415.76,122.70 L415.36,123.20 L414.96,123.70 L414.55,124.20 L414.15,124.70 L413.75,125.20 L413.35,125.70 L412.96,126.20 L412.57,126.70 L412.19,127.20 L411.81,127.70 L411.43,128.20 L411.06,128.70 L410.70,129.20 L410.35,129.70 L410.02,130.20 L409.70,130.70 L409.40,131.20 L409.11,131.70 L408.84,132.20 L408.59,132.70 L408.36,133.20 L408.15,133.70 L407.97,134.20 L407.82,134.70 L407.68,135.20 L407.56,135.70 L407.45,136.20 L407.36,136.70 L407.29,137.20 L407.22,137.70 L407.16,138.20 L407.12,138.70 L407.08,139.20 L407.06,139.70 L407.05,140.20 L407.06,140.70 L407.09,141.20 L407.13,141.70 L407.20,142.20 L407.27,142.70 L407.36,143.20 L407.46,143.70 L407.57,144.20 L407.71,144.70 L407.87,145.20 L408.04,145.70 L408.24,146.20 L408.45,146.70 L408.69,147.20 L408.95,147.70 L409.23,148.20 L409.54,148.70 L409.86,149.20 L410.21,149.70 L410.59,150.20 L410.98,150.70 L411.39,151.20 L411.82,151.70 L412.25,152.20 L412.68,152.70 L413.11,153.20 L413.54,153.70 L413.96,154.20 L414.38,154.70 L414.80,155.20 L415.22,155.70 L415.63,156.20 L416.05,156.70 L416.46,157.20 L416.87,157.70 L417.26,158.20 L417.64,158.70 L418.00,159.20 L418.35,159.70 L418.68,160.20 L418.99,160.70 L419.28,161.20 L419.56,161.70 L419.82,162.20 L420.06,162.70 L420.29,163.20 L420.51,163.70 L420.72,164.20 L420.93,164.70 L421.13,165.20 L421.33,165.70 L421.53,166.20 L421.73,166.70 L421.92,167.20 L422.11,167.70 L422.29,168.20 L422.46,168.70 L422.63,169.20 L422.80,169.70 L422.96,170.20 L423.11,170.70 L423.26,171.20 L423.41,171.70 L423.55,172.20 L423.69,172.70 L423.82,173.20 L423.94,173.70 L424.04,174.20 L424.12,174.70 L424.19,175.20 L424.26,175.70 L424.31,176.20 L424.36,176.70 L424.41,177.20 L424.46,177.70 L424.50,178.20 L424.55,178.70 L424.59,179.20 L424.63,179.70 L424.66,180.20 L424.69,180.70 L424.72,181.20 L424.75,181.70 L424.77,182.20 L424.80,182.70 L424.82,183.20 L424.84,183.70 L424.86,184.20 L424.89,184.70 L424.91,185.20 L424.93,185.70 L424.96,186.20 L424.98,186.70 L425.01,187.20 L425.03,187.70 L425.06,188.20 L425.08,188.70 L425.11,189.20 L425.13,189.70 L425.16,190.20 L425.20,190.70 L425.20,190.70 L425.24,190.20 L425.27,189.70 L425.29,189.20 L425.32,188.70 L425.34,188.20 L425.37,187.70 L425.39,187.20 L425.42,186.70 L425.44,186.20 L425.47,185.70 L425.49,185.20 L425.51,184.70 L425.54,184.20 L425.56,183.70 L425.58,183.20 L425.60,182.70 L425.63,182.20 L425.65,181.70 L425.68,181.20 L425.71,180.70 L425.74,180.20 L425.77,179.70 L425.81,179.20 L425.85,178.70 L425.90,178.20 L425.94,177.70 L425.99,177.20 L426.04,176.70 L426.09,176.20 L426.14,175.70 L426.21,175.20 L426.28,174.70 L426.36,174.20 L426.46,173.70 L426.58,173.20 L426.71,172.70 L426.85,172.20 L426.99,171.70 L427.14,171.20 L427.29,170.70 L427.44,170.20 L427.60,169.70 L427.77,169.20 L427.94,168.70 L428.11,168.20 L428.29,167.70 L428.48,167.20 L428.67,166.70 L428.87,166.20 L429.07,165.70 L429.27,165.20 L429.47,164.70 L429.68,164.20 L429.89,163.70 L430.11,163.20 L430.34,162.70 L430.58,162.20 L430.84,161.70 L431.12,161.20 L431.41,160.70 L431.72,160.20 L432.05,159.70 L432.40,159.20 L432.76,158.70 L433.14,158.20 L433.53,157.70 L433.94,157.20 L434.35,156.70 L434.77,156.20 L435.18,155.70 L435.60,155.20 L436.02,154.70 L436.44,154.20 L436.86,153.70 L437.29,153.20 L437.72,152.70 L438.15,152.20 L438.58,151.70 L439.01,151.20 L439.42,150.70 L439.81,150.20 L440.19,149.70 L440.54,149.20 L440.86,148.70 L441.17,148.20 L441.45,147.70 L441.71,147.20 L441.95,146.70 L442.16,146.20 L442.36,145.70 L442.53,145.20 L442.69,144.70 L442.83,144.20 L442.94,143.70 L443.04,143.20 L443.13,142.70 L443.20,142.20 L443.27,141.70 L443.31,141.20 L443.34,140.70 L443.35,140.20 L443.34,139.70 L443.32,139.20 L443.28,138.70 L443.24,138.20 L443.18,137.70 L443.11,137.20 L443.04,136.70 L442.95,136.20 L442.84,135.70 L442.72,135.20 L442.58,134.70 L442.43,134.20 L442.25,133.70 L442.04,133.20 L441.81,132.70 L441.56,132.20 L441.29,131.70 L441.00,131.20 L440.70,130.70 L440.38,130.20 L440.05,129.70 L439.70,129.20 L439.34,128.70 L438.97,128.20 L438.59,127.70 L438.21,127.20 L437.83,126.70 L437.44,126.20 L437.05,125.70 L436.65,125.20 L436.25,124.70 L435.85,124.20 L435.44,123.70 L435.04,123.20 L434.64,122.70 L434.24,122.20 L433.86,121.70 L433.48,121.20 L433.11,120.70 L432.75,120.20 L432.40,119.70 L432.06,119.20 L431.72,118.70 L431.40,118.20 L431.08,117.70 L430.76,117.20 L430.46,116.70 L430.16,116.20 L429.87,115.70 L429.59,115.20 L429.32,114.70 L429.05,114.20 L428.80,113.70 L428.57,113.20 L428.36,112.70 L428.17,112.20 L428.01,111.70 L427.86,111.20 L427.73,110.70 L427.61,110.20 L427.50,109.70 L427.40,109.20 L427.30,108.70 L427.22,108.20 L427.14,107.70 L427.06,107.20 L426.98,106.70 L426.90,106.20 L426.82,105.70 L426.73,105.20 L426.65,104.70 L426.57,104.20 L426.50,103.70 L426.43,103.20 L426.36,102.70 L426.30,102.20 L426.25,101.70 L426.20,101.20 L426.16,100.70 L426.12,100.20 L426.09,99.70 L426.06,99.20 L426.03,98.70 L426.01,98.20 L425.99,97.70 L425.97,97.20 L425.95,96.70 L425.93,96.20 L425.91,95.70 L425.89,95.20 L425.88,94.70 L425.86,94.20 L425.84,93.70 L425.82,93.20 L425.81,92.70 L425.79,92.20 L425.77,91.70 L425.75,91.20 L425.74,90.70 L425.72,90.20 L425.71,89.70 L425.69,89.20 L425.67,88.70 L425.66,88.20 L425.64,87.70 L425.63,87.20 L425.61,86.70 L425.59,86.20 L425.58,85.70 L425.56,85.20 L425.55,84.70 L425.53,84.20 L425.51,83.70 L425.49,83.20 L425.48,82.70 L425.46,82.20 L425.44,81.70 L425.41,81.20 L425.39,80.70 L425.37,80.20 L425.34,79.70 L425.31,79.20 L425.29,78.70 L425.26,78.20 L425.24,77.70 L425.20,77.20Z" fill="#e1b6b6" stroke="#808486" stroke-width="1.4" stroke-linejoin="round"/>
<line x1="410.14" y1="130.80" x2="440.26" y2="130.80" stroke="#86888b" stroke-width="1.5" stroke-dasharray="3.0 3.1"/>
<line x1="407.55" y1="140.00" x2="442.85" y2="140.00" stroke="#86888b" stroke-width="1.5" stroke-dasharray="3.0 3.1"/>
<line x1="411.09" y1="150.20" x2="439.31" y2="150.20" stroke="#86888b" stroke-width="1.5" stroke-dasharray="3.0 3.1"/>
<circle cx="425.20" cy="140.60" r="2.35" fill="#fff" stroke="#3b2222" stroke-width="1.15"/>
<path d="M470.80,118.00 L470.76,118.50 L470.74,119.00 L470.71,119.50 L470.67,120.00 L470.62,120.50 L470.57,121.00 L470.52,121.50 L470.46,122.00 L470.40,122.50 L470.33,123.00 L470.25,123.50 L470.16,124.00 L470.05,124.50 L469.91,125.00 L469.75,125.50 L469.56,126.00 L469.34,126.50 L469.09,127.00 L468.82,127.50 L468.53,128.00 L468.22,128.50 L467.88,129.00 L467.51,129.50 L467.09,130.00 L466.63,130.50 L466.11,131.00 L465.52,131.50 L464.88,132.00 L464.16,132.50 L463.39,133.00 L462.56,133.50 L461.67,134.00 L460.73,134.50 L459.77,135.00 L458.81,135.50 L457.89,136.00 L457.01,136.50 L456.19,137.00 L455.44,137.50 L454.77,138.00 L454.19,138.50 L453.70,139.00 L453.29,139.50 L452.97,140.00 L452.75,140.50 L452.65,141.00 L452.70,141.50 L452.89,142.00 L453.23,142.50 L453.68,143.00 L454.25,143.50 L454.92,144.00 L455.70,144.50 L456.56,145.00 L457.49,145.50 L458.46,146.00 L459.46,146.50 L460.47,147.00 L461.47,147.50 L462.43,148.00 L463.33,148.50 L464.17,149.00 L464.94,149.50 L465.64,150.00 L466.28,150.50 L466.86,151.00 L467.38,151.50 L467.85,152.00 L468.27,152.50 L468.64,153.00 L468.96,153.50 L469.23,154.00 L469.46,154.50 L469.66,155.00 L469.83,155.50 L469.98,156.00 L470.10,156.50 L470.20,157.00 L470.29,157.50 L470.36,158.00 L470.43,158.50 L470.49,159.00 L470.54,159.50 L470.59,160.00 L470.63,160.50 L470.67,161.00 L470.71,161.50 L470.74,162.00 L470.76,162.50 L470.78,163.00 L470.80,163.50 L470.80,163.50 L470.82,163.00 L470.84,162.50 L470.86,162.00 L470.89,161.50 L470.93,161.00 L470.97,160.50 L471.01,160.00 L471.06,159.50 L471.11,159.00 L471.17,158.50 L471.24,158.00 L471.31,157.50 L471.40,157.00 L471.50,156.50 L471.62,156.00 L471.77,155.50 L471.94,155.00 L472.14,154.50 L472.37,154.00 L472.64,153.50 L472.96,153.00 L473.33,152.50 L473.75,152.00 L474.22,151.50 L474.74,151.00 L475.32,150.50 L475.96,150.00 L476.66,149.50 L477.43,149.00 L478.27,148.50 L479.17,148.00 L480.13,147.50 L481.13,147.00 L482.14,146.50 L483.14,146.00 L484.11,145.50 L485.04,145.00 L485.90,144.50 L486.68,144.00 L487.35,143.50 L487.92,143.00 L488.37,142.50 L488.71,142.00 L488.90,141.50 L488.95,141.00 L488.85,140.50 L488.63,140.00 L488.31,139.50 L487.90,139.00 L487.41,138.50 L486.83,138.00 L486.16,137.50 L485.41,137.00 L484.59,136.50 L483.71,136.00 L482.79,135.50 L481.83,135.00 L480.87,134.50 L479.93,134.00 L479.04,133.50 L478.21,133.00 L477.44,132.50 L476.72,132.00 L476.08,131.50 L475.49,131.00 L474.97,130.50 L474.51,130.00 L474.09,129.50 L473.72,129.00 L473.38,128.50 L473.07,128.00 L472.78,127.50 L472.51,127.00 L472.26,126.50 L472.04,126.00 L471.85,125.50 L471.69,125.00 L471.55,124.50 L471.44,124.00 L471.35,123.50 L471.27,123.00 L471.20,122.50 L471.14,122.00 L471.08,121.50 L471.03,121.00 L470.98,120.50 L470.93,120.00 L470.89,119.50 L470.86,119.00 L470.84,118.50 L470.80,118.00Z" fill="#a5badd" stroke="#808486" stroke-width="1.4" stroke-linejoin="round"/>
<line x1="456.09" y1="137.40" x2="485.51" y2="137.40" stroke="#86888b" stroke-width="1.5" stroke-dasharray="3.0 3.1"/>
<line x1="453.19" y1="141.40" x2="488.41" y2="141.40" stroke="#86888b" stroke-width="1.5" stroke-dasharray="3.0 3.1"/>
<line x1="458.38" y1="145.70" x2="483.22" y2="145.70" stroke="#86888b" stroke-width="1.5" stroke-dasharray="3.0 3.1"/>
<circle cx="470.80" cy="141.50" r="2.35" fill="#fff" stroke="#3b2222" stroke-width="1.15"/>
<path d="M498.25,141.35 L499.16,141.35 L500.06,141.35 L500.97,141.34 L501.88,141.34 L502.79,141.33 L503.69,141.33 L504.60,141.32 L505.51,141.30 L506.42,141.29 L507.32,141.27 L508.23,141.24 L509.14,141.22 L510.05,141.19 L510.95,141.16 L511.86,141.13 L512.77,141.11 L513.68,141.08 L514.59,141.07 L515.49,141.05 L516.40,141.05 L517.31,141.05 L518.22,141.07 L519.12,141.08 L520.03,141.11 L520.94,141.13 L521.85,141.16 L522.75,141.19 L523.66,141.22 L524.57,141.24 L525.48,141.27 L526.38,141.29 L527.29,141.30 L528.20,141.32 L529.11,141.33 L530.01,141.33 L530.92,141.34 L531.83,141.34 L532.74,141.35 L533.64,141.35 L534.55,141.35 L534.55,141.65 L533.64,141.65 L532.74,141.65 L531.83,141.66 L530.92,141.66 L530.01,141.67 L529.11,141.67 L528.20,141.68 L527.29,141.70 L526.38,141.71 L525.48,141.73 L524.57,141.76 L523.66,141.78 L522.75,141.81 L521.85,141.84 L520.94,141.87 L520.03,141.89 L519.12,141.92 L518.22,141.93 L517.31,141.95 L516.40,141.95 L515.49,141.95 L514.59,141.93 L513.68,141.92 L512.77,141.89 L511.86,141.87 L510.95,141.84 L510.05,141.81 L509.14,141.78 L508.23,141.76 L507.32,141.73 L506.42,141.71 L505.51,141.70 L504.60,141.68 L503.69,141.67 L502.79,141.67 L501.88,141.66 L500.97,141.66 L500.06,141.65 L499.16,141.65 L498.25,141.65Z" fill="#bfe0c8" stroke="#808486" stroke-width="1.4" stroke-linejoin="round"/>
<circle cx="516.40" cy="141.50" r="2.35" fill="#fff" stroke="#3b2222" stroke-width="1.15"/>
<path d="M562.00,79.60 L561.96,80.10 L561.93,80.60 L561.90,81.10 L561.88,81.60 L561.85,82.10 L561.82,82.60 L561.79,83.10 L561.77,83.60 L561.75,84.10 L561.73,84.60 L561.71,85.10 L561.69,85.60 L561.67,86.10 L561.66,86.60 L561.64,87.10 L561.62,87.60 L561.61,88.10 L561.59,88.60 L561.58,89.10 L561.56,89.60 L561.55,90.10 L561.53,90.60 L561.51,91.10 L561.50,91.60 L561.48,92.10 L561.47,92.60 L561.45,93.10 L561.43,93.60 L561.42,94.10 L561.40,94.60 L561.38,95.10 L561.36,95.60 L561.34,96.10 L561.33,96.60 L561.31,97.10 L561.29,97.60 L561.26,98.10 L561.24,98.60 L561.22,99.10 L561.19,99.60 L561.17,100.10 L561.14,100.60 L561.11,101.10 L561.07,101.60 L561.03,102.10 L560.99,102.60 L560.94,103.10 L560.89,103.60 L560.83,104.10 L560.76,104.60 L560.69,105.10 L560.61,105.60 L560.52,106.10 L560.41,106.60 L560.29,107.10 L560.14,107.60 L559.97,108.10 L559.76,108.60 L559.53,109.10 L559.28,109.60 L559.02,110.10 L558.76,110.60 L558.50,111.10 L558.24,111.60 L557.98,112.10 L557.72,112.60 L557.46,113.10 L557.20,113.60 L556.94,114.10 L556.68,114.60 L556.42,115.10 L556.17,115.60 L555.91,116.10 L555.65,116.60 L555.39,117.10 L555.14,117.60 L554.88,118.10 L554.62,118.60 L554.36,119.10 L554.10,119.60 L553.84,120.10 L553.57,120.60 L553.30,121.10 L553.02,121.60 L552.73,122.10 L552.42,122.60 L552.08,123.10 L551.73,123.60 L551.35,124.10 L550.97,124.60 L550.58,125.10 L550.19,125.60 L549.81,126.10 L549.43,126.60 L549.07,127.10 L548.71,127.60 L548.35,128.10 L548.01,128.60 L547.67,129.10 L547.33,129.60 L547.01,130.10 L546.69,130.60 L546.38,131.10 L546.09,131.60 L545.82,132.10 L545.55,132.60 L545.31,133.10 L545.08,133.60 L544.86,134.10 L544.68,134.60 L544.51,135.10 L544.37,135.60 L544.25,136.10 L544.15,136.60 L544.07,137.10 L544.00,137.60 L543.95,138.10 L543.91,138.60 L543.88,139.10 L543.87,139.60 L543.86,140.10 L543.85,140.60 L543.85,141.10 L543.86,141.60 L543.88,142.10 L543.93,142.60 L543.99,143.10 L544.07,143.60 L544.16,144.10 L544.26,144.60 L544.38,145.10 L544.51,145.60 L544.66,146.10 L544.82,146.60 L545.00,147.10 L545.18,147.60 L545.38,148.10 L545.58,148.60 L545.79,149.10 L546.02,149.60 L546.26,150.10 L546.51,150.60 L546.78,151.10 L547.06,151.60 L547.36,152.10 L547.68,152.60 L548.00,153.10 L548.32,153.60 L548.64,154.10 L548.97,154.60 L549.29,155.10 L549.61,155.60 L549.94,156.10 L550.27,156.60 L550.60,157.10 L550.93,157.60 L551.27,158.10 L551.60,158.60 L551.94,159.10 L552.28,159.60 L552.63,160.10 L552.97,160.60 L553.31,161.10 L553.65,161.60 L553.99,162.10 L554.32,162.60 L554.66,163.10 L554.98,163.60 L555.30,164.10 L555.61,164.60 L555.92,165.10 L556.22,165.60 L556.51,166.10 L556.79,166.60 L557.06,167.10 L557.32,167.60 L557.58,168.10 L557.82,168.60 L558.06,169.10 L558.28,169.60 L558.50,170.10 L558.71,170.60 L558.91,171.10 L559.10,171.60 L559.28,172.10 L559.45,172.60 L559.62,173.10 L559.77,173.60 L559.92,174.10 L560.07,174.60 L560.21,175.10 L560.34,175.60 L560.48,176.10 L560.61,176.60 L560.73,177.10 L560.84,177.60 L560.94,178.10 L561.03,178.60 L561.09,179.10 L561.14,179.60 L561.18,180.10 L561.22,180.60 L561.25,181.10 L561.28,181.60 L561.31,182.10 L561.34,182.60 L561.37,183.10 L561.40,183.60 L561.43,184.10 L561.45,184.60 L561.47,185.10 L561.50,185.60 L561.52,186.10 L561.53,186.60 L561.55,187.10 L561.57,187.60 L561.59,188.10 L561.60,188.60 L561.62,189.10 L561.64,189.60 L561.65,190.10 L561.66,190.60 L561.68,191.10 L561.69,191.60 L561.70,192.10 L561.71,192.60 L561.72,193.10 L561.73,193.60 L561.75,194.10 L561.75,194.60 L561.76,195.10 L561.77,195.60 L561.78,196.10 L561.79,196.60 L561.80,197.10 L561.81,197.60 L561.82,198.10 L561.83,198.60 L561.83,199.10 L561.84,199.60 L561.85,200.10 L561.86,200.60 L561.87,201.10 L561.88,201.60 L561.89,202.10 L561.90,202.60 L561.90,203.10 L561.91,203.60 L561.92,204.10 L561.93,204.60 L561.94,205.10 L561.95,205.60 L561.95,206.10 L561.96,206.60 L561.97,207.10 L561.98,207.60 L561.99,208.10 L562.00,208.60 L562.00,208.60 L562.01,208.10 L562.02,207.60 L562.03,207.10 L562.04,206.60 L562.05,206.10 L562.05,205.60 L562.06,205.10 L562.07,204.60 L562.08,204.10 L562.09,203.60 L562.10,203.10 L562.10,202.60 L562.11,202.10 L562.12,201.60 L562.13,201.10 L562.14,200.60 L562.15,200.10 L562.16,199.60 L562.17,199.10 L562.17,198.60 L562.18,198.10 L562.19,197.60 L562.20,197.10 L562.21,196.60 L562.22,196.10 L562.23,195.60 L562.24,195.10 L562.25,194.60 L562.25,194.10 L562.27,193.60 L562.28,193.10 L562.29,192.60 L562.30,192.10 L562.31,191.60 L562.32,191.10 L562.34,190.60 L562.35,190.10 L562.36,189.60 L562.38,189.10 L562.40,188.60 L562.41,188.10 L562.43,187.60 L562.45,187.10 L562.47,186.60 L562.48,186.10 L562.50,185.60 L562.53,185.10 L562.55,184.60 L562.57,184.10 L562.60,183.60 L562.63,183.10 L562.66,182.60 L562.69,182.10 L562.72,181.60 L562.75,181.10 L562.78,180.60 L562.82,180.10 L562.86,179.60 L562.91,179.10 L562.97,178.60 L563.06,178.10 L563.16,177.60 L563.27,177.10 L563.39,176.60 L563.52,176.10 L563.66,175.60 L563.79,175.10 L563.93,174.60 L564.08,174.10 L564.23,173.60 L564.38,173.10 L564.55,172.60 L564.72,172.10 L564.90,171.60 L565.09,171.10 L565.29,170.60 L565.50,170.10 L565.72,169.60 L565.94,169.10 L566.18,168.60 L566.42,168.10 L566.68,167.60 L566.94,167.10 L567.21,166.60 L567.49,166.10 L567.78,165.60 L568.08,165.10 L568.39,164.60 L568.70,164.10 L569.02,163.60 L569.34,163.10 L569.68,162.60 L570.01,162.10 L570.35,161.60 L570.69,161.10 L571.03,160.60 L571.37,160.10 L571.72,159.60 L572.06,159.10 L572.40,158.60 L572.73,158.10 L573.07,157.60 L573.40,157.10 L573.73,156.60 L574.06,156.10 L574.39,155.60 L574.71,155.10 L575.03,154.60 L575.36,154.10 L575.68,153.60 L576.00,153.10 L576.32,152.60 L576.64,152.10 L576.94,151.60 L577.22,151.10 L577.49,150.60 L577.74,150.10 L577.98,149.60 L578.21,149.10 L578.42,148.60 L578.62,148.10 L578.82,147.60 L579.00,147.10 L579.18,146.60 L579.34,146.10 L579.49,145.60 L579.62,145.10 L579.74,144.60 L579.84,144.10 L579.93,143.60 L580.01,143.10 L580.07,142.60 L580.12,142.10 L580.14,141.60 L580.15,141.10 L580.15,140.60 L580.14,140.10 L580.13,139.60 L580.12,139.10 L580.09,138.60 L580.05,138.10 L580.00,137.60 L579.93,137.10 L579.85,136.60 L579.75,136.10 L579.63,135.60 L579.49,135.10 L579.32,134.60 L579.14,134.10 L578.92,133.60 L578.69,133.10 L578.45,132.60 L578.18,132.10 L577.91,131.60 L577.62,131.10 L577.31,130.60 L576.99,130.10 L576.67,129.60 L576.33,129.10 L575.99,128.60 L575.65,128.10 L575.29,127.60 L574.93,127.10 L574.57,126.60 L574.19,126.10 L573.81,125.60 L573.42,125.10 L573.03,124.60 L572.65,124.10 L572.27,123.60 L571.92,123.10 L571.58,122.60 L571.27,122.10 L570.98,121.60 L570.70,121.10 L570.43,120.60 L570.16,120.10 L569.90,119.60 L569.64,119.10 L569.38,118.60 L569.12,118.10 L568.86,117.60 L568.61,117.10 L568.35,116.60 L568.09,116.10 L567.83,115.60 L567.58,115.10 L567.32,114.60 L567.06,114.10 L566.80,113.60 L566.54,113.10 L566.28,112.60 L566.02,112.10 L565.76,111.60 L565.50,111.10 L565.24,110.60 L564.98,110.10 L564.72,109.60 L564.47,109.10 L564.24,108.60 L564.03,108.10 L563.86,107.60 L563.71,107.10 L563.59,106.60 L563.48,106.10 L563.39,105.60 L563.31,105.10 L563.24,104.60 L563.17,104.10 L563.11,103.60 L563.06,103.10 L563.01,102.60 L562.97,102.10 L562.93,101.60 L562.89,101.10 L562.86,100.60 L562.83,100.10 L562.81,99.60 L562.78,99.10 L562.76,98.60 L562.74,98.10 L562.71,97.60 L562.69,97.10 L562.67,96.60 L562.66,96.10 L562.64,95.60 L562.62,95.10 L562.60,94.60 L562.58,94.10 L562.57,93.60 L562.55,93.10 L562.53,92.60 L562.52,92.10 L562.50,91.60 L562.49,91.10 L562.47,90.60 L562.45,90.10 L562.44,89.60 L562.42,89.10 L562.41,88.60 L562.39,88.10 L562.38,87.60 L562.36,87.10 L562.34,86.60 L562.33,86.10 L562.31,85.60 L562.29,85.10 L562.27,84.60 L562.25,84.10 L562.23,83.60 L562.21,83.10 L562.18,82.60 L562.15,82.10 L562.12,81.60 L562.10,81.10 L562.07,80.60 L562.04,80.10 L562.00,79.60Z" fill="#e9e9e9" stroke="#808486" stroke-width="1.4" stroke-linejoin="round"/>
<line x1="547.01" y1="130.90" x2="576.99" y2="130.90" stroke="#86888b" stroke-width="1.5" stroke-dasharray="3.0 3.1"/>
<line x1="544.36" y1="141.40" x2="579.64" y2="141.40" stroke="#86888b" stroke-width="1.5" stroke-dasharray="3.0 3.1"/>
<line x1="548.24" y1="152.70" x2="575.76" y2="152.70" stroke="#86888b" stroke-width="1.5" stroke-dasharray="3.0 3.1"/>
<circle cx="562.00" cy="141.70" r="2.35" fill="#fff" stroke="#3b2222" stroke-width="1.15"/>
<path d="M607.40,86.50 L607.31,87.00 L607.26,87.50 L607.21,88.00 L607.16,88.50 L607.11,89.00 L607.07,89.50 L607.03,90.00 L607.00,90.50 L606.96,91.00 L606.93,91.50 L606.89,92.00 L606.86,92.50 L606.82,93.00 L606.78,93.50 L606.74,94.00 L606.70,94.50 L606.66,95.00 L606.62,95.50 L606.58,96.00 L606.54,96.50 L606.50,97.00 L606.46,97.50 L606.41,98.00 L606.35,98.50 L606.28,99.00 L606.21,99.50 L606.13,100.00 L606.04,100.50 L605.94,101.00 L605.83,101.50 L605.70,102.00 L605.57,102.50 L605.42,103.00 L605.27,103.50 L605.12,104.00 L604.97,104.50 L604.82,105.00 L604.67,105.50 L604.51,106.00 L604.35,106.50 L604.18,107.00 L604.00,107.50 L603.79,108.00 L603.58,108.50 L603.34,109.00 L603.10,109.50 L602.84,110.00 L602.59,110.50 L602.33,111.00 L602.07,111.50 L601.80,112.00 L601.52,112.50 L601.24,113.00 L600.93,113.50 L600.61,114.00 L600.27,114.50 L599.91,115.00 L599.52,115.50 L599.11,116.00 L598.68,116.50 L598.23,117.00 L597.74,117.50 L597.23,118.00 L596.70,118.50 L596.16,119.00 L595.61,119.50 L595.07,120.00 L594.53,120.50 L594.00,121.00 L593.47,121.50 L592.96,122.00 L592.46,122.50 L591.97,123.00 L591.51,123.50 L591.07,124.00 L590.67,124.50 L590.32,125.00 L590.04,125.50 L589.81,126.00 L589.63,126.50 L589.48,127.00 L589.37,127.50 L589.29,128.00 L589.25,128.50 L589.25,129.00 L589.28,129.50 L589.33,130.00 L589.41,130.50 L589.52,131.00 L589.65,131.50 L589.82,132.00 L590.04,132.50 L590.30,133.00 L590.61,133.50 L590.97,134.00 L591.36,134.50 L591.78,135.00 L592.25,135.50 L592.75,136.00 L593.28,136.50 L593.84,137.00 L594.40,137.50 L594.98,138.00 L595.56,138.50 L596.14,139.00 L596.72,139.50 L597.29,140.00 L597.84,140.50 L598.38,141.00 L598.90,141.50 L599.39,142.00 L599.87,142.50 L600.32,143.00 L600.76,143.50 L601.19,144.00 L601.59,144.50 L601.98,145.00 L602.35,145.50 L602.71,146.00 L603.05,146.50 L603.38,147.00 L603.70,147.50 L604.00,148.00 L604.30,148.50 L604.58,149.00 L604.84,149.50 L605.08,150.00 L605.30,150.50 L605.50,151.00 L605.69,151.50 L605.86,152.00 L606.01,152.50 L606.15,153.00 L606.28,153.50 L606.39,154.00 L606.50,154.50 L606.59,155.00 L606.68,155.50 L606.75,156.00 L606.82,156.50 L606.87,157.00 L606.92,157.50 L606.97,158.00 L607.00,158.50 L607.04,159.00 L607.07,159.50 L607.10,160.00 L607.12,160.50 L607.15,161.00 L607.17,161.50 L607.20,162.00 L607.22,162.50 L607.24,163.00 L607.26,163.50 L607.29,164.00 L607.31,164.50 L607.32,165.00 L607.34,165.50 L607.36,166.00 L607.37,166.50 L607.40,167.00 L607.40,167.00 L607.43,166.50 L607.44,166.00 L607.46,165.50 L607.48,165.00 L607.49,164.50 L607.51,164.00 L607.54,163.50 L607.56,163.00 L607.58,162.50 L607.60,162.00 L607.63,161.50 L607.65,161.00 L607.68,160.50 L607.70,160.00 L607.73,159.50 L607.76,159.00 L607.80,158.50 L607.83,158.00 L607.88,157.50 L607.93,157.00 L607.98,156.50 L608.05,156.00 L608.12,155.50 L608.21,155.00 L608.30,154.50 L608.41,154.00 L608.52,153.50 L608.65,153.00 L608.79,152.50 L608.94,152.00 L609.11,151.50 L609.30,151.00 L609.50,150.50 L609.72,150.00 L609.96,149.50 L610.22,149.00 L610.50,148.50 L610.80,148.00 L611.10,147.50 L611.42,147.00 L611.75,146.50 L612.09,146.00 L612.45,145.50 L612.82,145.00 L613.21,144.50 L613.61,144.00 L614.04,143.50 L614.48,143.00 L614.93,142.50 L615.41,142.00 L615.90,141.50 L616.42,141.00 L616.96,140.50 L617.51,140.00 L618.08,139.50 L618.66,139.00 L619.24,138.50 L619.82,138.00 L620.40,137.50 L620.96,137.00 L621.52,136.50 L622.05,136.00 L622.55,135.50 L623.02,135.00 L623.44,134.50 L623.83,134.00 L624.19,133.50 L624.50,133.00 L624.76,132.50 L624.98,132.00 L625.15,131.50 L625.28,131.00 L625.39,130.50 L625.47,130.00 L625.52,129.50 L625.55,129.00 L625.55,128.50 L625.51,128.00 L625.43,127.50 L625.32,127.00 L625.17,126.50 L624.99,126.00 L624.76,125.50 L624.48,125.00 L624.13,124.50 L623.73,124.00 L623.29,123.50 L622.83,123.00 L622.34,122.50 L621.84,122.00 L621.33,121.50 L620.80,121.00 L620.27,120.50 L619.73,120.00 L619.19,119.50 L618.64,119.00 L618.10,118.50 L617.57,118.00 L617.06,117.50 L616.57,117.00 L616.12,116.50 L615.69,116.00 L615.28,115.50 L614.89,115.00 L614.53,114.50 L614.19,114.00 L613.87,113.50 L613.56,113.00 L613.28,112.50 L613.00,112.00 L612.73,111.50 L612.47,111.00 L612.21,110.50 L611.96,110.00 L611.70,109.50 L611.46,109.00 L611.22,108.50 L611.01,108.00 L610.80,107.50 L610.62,107.00 L610.45,106.50 L610.29,106.00 L610.13,105.50 L609.98,105.00 L609.83,104.50 L609.68,104.00 L609.53,103.50 L609.38,103.00 L609.23,102.50 L609.10,102.00 L608.97,101.50 L608.86,101.00 L608.76,100.50 L608.67,100.00 L608.59,99.50 L608.52,99.00 L608.45,98.50 L608.39,98.00 L608.34,97.50 L608.30,97.00 L608.26,96.50 L608.22,96.00 L608.18,95.50 L608.14,95.00 L608.10,94.50 L608.06,94.00 L608.02,93.50 L607.98,93.00 L607.94,92.50 L607.91,92.00 L607.87,91.50 L607.84,91.00 L607.80,90.50 L607.77,90.00 L607.73,89.50 L607.69,89.00 L607.64,88.50 L607.59,88.00 L607.54,87.50 L607.49,87.00 L607.40,86.50Z" fill="#c2a8c4" stroke="#808486" stroke-width="1.4" stroke-linejoin="round"/>
<line x1="592.57" y1="122.90" x2="622.23" y2="122.90" stroke="#86888b" stroke-width="1.5" stroke-dasharray="3.0 3.1"/>
<line x1="589.77" y1="129.30" x2="625.03" y2="129.30" stroke="#86888b" stroke-width="1.5" stroke-dasharray="3.0 3.1"/>
<line x1="593.35" y1="136.10" x2="621.45" y2="136.10" stroke="#86888b" stroke-width="1.5" stroke-dasharray="3.0 3.1"/>
<circle cx="607.40" cy="129.30" r="2.35" fill="#fff" stroke="#3b2222" stroke-width="1.15"/>
<path d="M653.00,67.80 L652.97,68.30 L652.95,68.80 L652.93,69.30 L652.91,69.80 L652.89,70.30 L652.87,70.80 L652.86,71.30 L652.84,71.80 L652.82,72.30 L652.81,72.80 L652.79,73.30 L652.78,73.80 L652.77,74.30 L652.76,74.80 L652.74,75.30 L652.73,75.80 L652.72,76.30 L652.71,76.80 L652.70,77.30 L652.69,77.80 L652.68,78.30 L652.67,78.80 L652.66,79.30 L652.65,79.80 L652.64,80.30 L652.63,80.80 L652.62,81.30 L652.61,81.80 L652.60,82.30 L652.59,82.80 L652.58,83.30 L652.56,83.80 L652.55,84.30 L652.53,84.80 L652.52,85.30 L652.50,85.80 L652.47,86.30 L652.45,86.80 L652.42,87.30 L652.38,87.80 L652.35,88.30 L652.30,88.80 L652.26,89.30 L652.21,89.80 L652.15,90.30 L652.10,90.80 L652.03,91.30 L651.96,91.80 L651.88,92.30 L651.79,92.80 L651.70,93.30 L651.59,93.80 L651.47,94.30 L651.36,94.80 L651.23,95.30 L651.11,95.80 L650.98,96.30 L650.85,96.80 L650.72,97.30 L650.59,97.80 L650.48,98.30 L650.37,98.80 L650.26,99.30 L650.16,99.80 L650.07,100.30 L649.98,100.80 L649.89,101.30 L649.80,101.80 L649.72,102.30 L649.64,102.80 L649.56,103.30 L649.48,103.80 L649.39,104.30 L649.31,104.80 L649.22,105.30 L649.13,105.80 L649.03,106.30 L648.94,106.80 L648.84,107.30 L648.73,107.80 L648.62,108.30 L648.51,108.80 L648.38,109.30 L648.23,109.80 L648.05,110.30 L647.82,110.80 L647.53,111.30 L647.19,111.80 L646.79,112.30 L646.36,112.80 L645.92,113.30 L645.46,113.80 L645.01,114.30 L644.55,114.80 L644.10,115.30 L643.64,115.80 L643.19,116.30 L642.75,116.80 L642.32,117.30 L641.89,117.80 L641.48,118.30 L641.07,118.80 L640.68,119.30 L640.30,119.80 L639.94,120.30 L639.59,120.80 L639.25,121.30 L638.91,121.80 L638.57,122.30 L638.21,122.80 L637.84,123.30 L637.45,123.80 L637.07,124.30 L636.69,124.80 L636.35,125.30 L636.03,125.80 L635.75,126.30 L635.51,126.80 L635.29,127.30 L635.11,127.80 L634.97,128.30 L634.88,128.80 L634.85,129.30 L634.87,129.80 L634.94,130.30 L635.05,130.80 L635.19,131.30 L635.36,131.80 L635.55,132.30 L635.77,132.80 L636.01,133.30 L636.29,133.80 L636.60,134.30 L636.92,134.80 L637.27,135.30 L637.64,135.80 L638.04,136.30 L638.45,136.80 L638.88,137.30 L639.32,137.80 L639.77,138.30 L640.22,138.80 L640.69,139.30 L641.16,139.80 L641.63,140.30 L642.10,140.80 L642.56,141.30 L643.02,141.80 L643.46,142.30 L643.89,142.80 L644.32,143.30 L644.74,143.80 L645.15,144.30 L645.55,144.80 L645.94,145.30 L646.33,145.80 L646.70,146.30 L647.07,146.80 L647.44,147.30 L647.79,147.80 L648.14,148.30 L648.48,148.80 L648.82,149.30 L649.14,149.80 L649.45,150.30 L649.75,150.80 L650.03,151.30 L650.29,151.80 L650.54,152.30 L650.77,152.80 L650.98,153.30 L651.16,153.80 L651.32,154.30 L651.47,154.80 L651.61,155.30 L651.73,155.80 L651.84,156.30 L651.94,156.80 L652.03,157.30 L652.12,157.80 L652.19,158.30 L652.26,158.80 L652.32,159.30 L652.37,159.80 L652.41,160.30 L652.45,160.80 L652.49,161.30 L652.52,161.80 L652.55,162.30 L652.58,162.80 L652.61,163.30 L652.64,163.80 L652.66,164.30 L652.69,164.80 L652.71,165.30 L652.74,165.80 L652.76,166.30 L652.78,166.80 L652.81,167.30 L652.83,167.80 L652.85,168.30 L652.87,168.80 L652.89,169.30 L652.91,169.80 L652.93,170.30 L652.95,170.80 L652.96,171.30 L652.98,171.80 L653.00,172.30 L653.00,172.30 L653.02,171.80 L653.04,171.30 L653.05,170.80 L653.07,170.30 L653.09,169.80 L653.11,169.30 L653.13,168.80 L653.15,168.30 L653.17,167.80 L653.19,167.30 L653.22,166.80 L653.24,166.30 L653.26,165.80 L653.29,165.30 L653.31,164.80 L653.34,164.30 L653.36,163.80 L653.39,163.30 L653.42,162.80 L653.45,162.30 L653.48,161.80 L653.51,161.30 L653.55,160.80 L653.59,160.30 L653.63,159.80 L653.68,159.30 L653.74,158.80 L653.81,158.30 L653.88,157.80 L653.97,157.30 L654.06,156.80 L654.16,156.30 L654.27,155.80 L654.39,155.30 L654.53,154.80 L654.68,154.30 L654.84,153.80 L655.02,153.30 L655.23,152.80 L655.46,152.30 L655.71,151.80 L655.97,151.30 L656.25,150.80 L656.55,150.30 L656.86,149.80 L657.18,149.30 L657.52,148.80 L657.86,148.30 L658.21,147.80 L658.56,147.30 L658.93,146.80 L659.30,146.30 L659.67,145.80 L660.06,145.30 L660.45,144.80 L660.85,144.30 L661.26,143.80 L661.68,143.30 L662.11,142.80 L662.54,142.30 L662.98,141.80 L663.44,141.30 L663.90,140.80 L664.37,140.30 L664.84,139.80 L665.31,139.30 L665.78,138.80 L666.23,138.30 L666.68,137.80 L667.12,137.30 L667.55,136.80 L667.96,136.30 L668.36,135.80 L668.73,135.30 L669.08,134.80 L669.40,134.30 L669.71,133.80 L669.99,133.30 L670.23,132.80 L670.45,132.30 L670.64,131.80 L670.81,131.30 L670.95,130.80 L671.06,130.30 L671.13,129.80 L671.15,129.30 L671.12,128.80 L671.03,128.30 L670.89,127.80 L670.71,127.30 L670.49,126.80 L670.25,126.30 L669.97,125.80 L669.65,125.30 L669.31,124.80 L668.93,124.30 L668.55,123.80 L668.16,123.30 L667.79,122.80 L667.43,122.30 L667.09,121.80 L666.75,121.30 L666.41,120.80 L666.06,120.30 L665.70,119.80 L665.32,119.30 L664.93,118.80 L664.52,118.30 L664.11,117.80 L663.68,117.30 L663.25,116.80 L662.81,116.30 L662.36,115.80 L661.90,115.30 L661.45,114.80 L660.99,114.30 L660.54,113.80 L660.08,113.30 L659.64,112.80 L659.21,112.30 L658.81,111.80 L658.47,111.30 L658.18,110.80 L657.95,110.30 L657.77,109.80 L657.62,109.30 L657.49,108.80 L657.38,108.30 L657.27,107.80 L657.16,107.30 L657.06,106.80 L656.97,106.30 L656.87,105.80 L656.78,105.30 L656.69,104.80 L656.61,104.30 L656.52,103.80 L656.44,103.30 L656.36,102.80 L656.28,102.30 L656.20,101.80 L656.11,101.30 L656.02,100.80 L655.93,100.30 L655.84,99.80 L655.74,99.30 L655.63,98.80 L655.52,98.30 L655.41,97.80 L655.28,97.30 L655.15,96.80 L655.02,96.30 L654.89,95.80 L654.77,95.30 L654.64,94.80 L654.53,94.30 L654.41,93.80 L654.30,93.30 L654.21,92.80 L654.12,92.30 L654.04,91.80 L653.97,91.30 L653.90,90.80 L653.85,90.30 L653.79,89.80 L653.74,89.30 L653.70,88.80 L653.65,88.30 L653.62,87.80 L653.58,87.30 L653.55,86.80 L653.53,86.30 L653.50,85.80 L653.48,85.30 L653.47,84.80 L653.45,84.30 L653.44,83.80 L653.42,83.30 L653.41,82.80 L653.40,82.30 L653.39,81.80 L653.38,81.30 L653.37,80.80 L653.36,80.30 L653.35,79.80 L653.34,79.30 L653.33,78.80 L653.32,78.30 L653.31,77.80 L653.30,77.30 L653.29,76.80 L653.28,76.30 L653.27,75.80 L653.26,75.30 L653.24,74.80 L653.23,74.30 L653.22,73.80 L653.21,73.30 L653.19,72.80 L653.18,72.30 L653.16,71.80 L653.14,71.30 L653.13,70.80 L653.11,70.30 L653.09,69.80 L653.07,69.30 L653.05,68.80 L653.03,68.30 L653.00,67.80Z" fill="#e0b77d" stroke="#808486" stroke-width="1.4" stroke-linejoin="round"/>
<line x1="639.82" y1="121.20" x2="666.18" y2="121.20" stroke="#86888b" stroke-width="1.5" stroke-dasharray="3.0 3.1"/>
<line x1="635.35" y1="129.30" x2="670.65" y2="129.30" stroke="#86888b" stroke-width="1.5" stroke-dasharray="3.0 3.1"/>
<line x1="639.38" y1="137.30" x2="666.62" y2="137.30" stroke="#86888b" stroke-width="1.5" stroke-dasharray="3.0 3.1"/>
<circle cx="653.00" cy="128.70" r="2.35" fill="#fff" stroke="#3b2222" stroke-width="1.15"/>
<rect x="394.05" y="4.2" width="290.34999999999997" height="230.8" fill="none" stroke="#3e3e3e" stroke-width="1.1"/>
<line x1="425.20" y1="235.0" x2="425.20" y2="229.5" stroke="#3e3e3e" stroke-width="1.2"/>
<line x1="470.76" y1="235.0" x2="470.76" y2="229.5" stroke="#3e3e3e" stroke-width="1.2"/>
<line x1="516.32" y1="235.0" x2="516.32" y2="229.5" stroke="#3e3e3e" stroke-width="1.2"/>
<line x1="561.88" y1="235.0" x2="561.88" y2="229.5" stroke="#3e3e3e" stroke-width="1.2"/>
<line x1="607.44" y1="235.0" x2="607.44" y2="229.5" stroke="#3e3e3e" stroke-width="1.2"/>
<line x1="653.00" y1="235.0" x2="653.00" y2="229.5" stroke="#3e3e3e" stroke-width="1.2"/>
<text x="389.05" y="8.35" font-size="11.6" text-anchor="end" fill="#000" stroke="#000" stroke-width="0.3" transform="rotate(0.1 389.05 8.35)">1400</text>
<line x1="394.05" y1="42.67" x2="399.55" y2="42.67" stroke="#3e3e3e" stroke-width="1.2"/>
<text x="389.05" y="46.82" font-size="11.6" text-anchor="end" fill="#000" stroke="#000" stroke-width="0.3" transform="rotate(0.1 389.05 46.82)">1300</text>
<line x1="394.05" y1="81.13" x2="399.55" y2="81.13" stroke="#3e3e3e" stroke-width="1.2"/>
<text x="389.05" y="85.28" font-size="11.6" text-anchor="end" fill="#000" stroke="#000" stroke-width="0.3" transform="rotate(0.1 389.05 85.28)">1200</text>
<line x1="394.05" y1="119.60" x2="399.55" y2="119.60" stroke="#3e3e3e" stroke-width="1.2"/>
<text x="389.05" y="123.75" font-size="11.6" text-anchor="end" fill="#000" stroke="#000" stroke-width="0.3" transform="rotate(0.1 389.05 123.75)">1100</text>
<line x1="394.05" y1="158.07" x2="399.55" y2="158.07" stroke="#3e3e3e" stroke-width="1.2"/>
<text x="389.05" y="162.22" font-size="11.6" text-anchor="end" fill="#000" stroke="#000" stroke-width="0.3" transform="rotate(0.1 389.05 162.22)">1000</text>
<line x1="394.05" y1="196.53" x2="399.55" y2="196.53" stroke="#3e3e3e" stroke-width="1.2"/>
<text x="389.05" y="200.68" font-size="11.6" text-anchor="end" fill="#000" stroke="#000" stroke-width="0.3" transform="rotate(0.1 389.05 200.68)">900</text>
<text x="389.05" y="239.15" font-size="11.6" text-anchor="end" fill="#000" stroke="#000" stroke-width="0.3" transform="rotate(0.1 389.05 239.15)">800</text>
<text x="423.80" y="248.50" font-size="11.6" text-anchor="middle" fill="#000" stroke="#000" stroke-width="0.3" transform="rotate(0.1 423.80 248.50)"><tspan stroke-width="0.05">Δ</tspan><tspan font-style="italic">H</tspan></text>
<text x="470.96" y="248.50" font-size="11.6" text-anchor="middle" fill="#000" stroke="#000" stroke-width="0.3" transform="rotate(0.1 470.96 248.50)"><tspan stroke-width="0.05">Δ</tspan><tspan font-style="italic">S</tspan></text>
<text x="516.32" y="248.50" font-size="11.6" text-anchor="middle" fill="#000" stroke="#000" stroke-width="0.3" transform="rotate(0.1 516.32 248.50)"><tspan stroke-width="0.05">Δ</tspan><tspan font-style="italic">V</tspan></text>
<text x="562.33" y="248.50" font-size="11.6" text-anchor="middle" fill="#000" stroke="#000" stroke-width="0.3" transform="rotate(0.1 562.33 248.50)"><tspan stroke-width="0.05">Δ</tspan><tspan font-style="italic">W</tspan></text>
<text x="608.09" y="248.50" font-size="11.6" text-anchor="middle" fill="#000" stroke="#000" stroke-width="0.3" transform="rotate(0.1 608.09 248.50)"><tspan stroke-width="0.05">Δ</tspan><tspan font-style="italic">X</tspan></text>
<text x="653.70" y="248.50" font-size="11.6" text-anchor="middle" fill="#000" stroke="#000" stroke-width="0.3" transform="rotate(0.1 653.70 248.50)">Total</text>
<text transform="translate(356.7,123.0) rotate(-90)" font-size="12.3" text-anchor="middle" fill="#000" stroke="#000" stroke-width="0.38">Calculated pressure (°C)</text>
<text x="403.55" y="27.90" font-size="22" text-anchor="start" fill="#000" stroke="#000" stroke-width="0.2" transform="rotate(0.1 403.55 27.90)">b</text>
<path d="M76.20,70.80 V65.60 H213.40 V70.80 M146.60,65.60 V61.40" fill="none" stroke="#433232" stroke-width="1.35"/>
<path d="M424.80,70.40 V65.20 H562.00 V70.40 M495.20,65.20 V61.00" fill="none" stroke="#433232" stroke-width="1.35"/>
<text x="147.30" y="46.00" font-size="9.8" text-anchor="middle" fill="#2f6db5" stroke="#2f6db5" stroke-width="0.3" transform="rotate(0.1 147.30 46.00)"><tspan font-style="italic">S</tspan><tspan font-size="6.3" dy="1.8" stroke-width="0.15">1</tspan><tspan dy="-1.8" dx="-0.45">=0.79</tspan></text>
<text x="147.30" y="57.80" font-size="9.8" text-anchor="middle" fill="#c9283e" stroke="#c9283e" stroke-width="0.3" transform="rotate(0.1 147.30 57.80)"><tspan font-style="italic">S</tspan><tspan font-size="6.3" dy="1.8" stroke-width="0.15">T</tspan><tspan dy="-1.8" dx="-0.8">=0.81</tspan></text>
<text x="259.50" y="98.70" font-size="9.8" text-anchor="middle" fill="#2f6db5" stroke="#2f6db5" stroke-width="0.3" transform="rotate(0.1 259.50 98.70)"><tspan font-style="italic">S</tspan><tspan font-size="6.3" dy="1.8" stroke-width="0.15">1</tspan><tspan dy="-1.8" dx="-0.45">=0.04</tspan></text>
<text x="259.50" y="110.00" font-size="9.8" text-anchor="middle" fill="#c9283e" stroke="#c9283e" stroke-width="0.3" transform="rotate(0.1 259.50 110.00)"><tspan font-style="italic">S</tspan><tspan font-size="6.3" dy="1.8" stroke-width="0.15">T</tspan><tspan dy="-1.8" dx="-0.8">=0.04</tspan></text>
<text x="495.20" y="46.20" font-size="9.8" text-anchor="middle" fill="#2f6db5" stroke="#2f6db5" stroke-width="0.3" transform="rotate(0.1 495.20 46.20)"><tspan font-style="italic">S</tspan><tspan font-size="6.3" dy="1.8" stroke-width="0.15">1</tspan><tspan dy="-1.8" dx="-0.45">=0.22</tspan></text>
<text x="495.20" y="57.80" font-size="9.8" text-anchor="middle" fill="#c9283e" stroke="#c9283e" stroke-width="0.3" transform="rotate(0.1 495.20 57.80)"><tspan font-style="italic">S</tspan><tspan font-size="6.3" dy="1.8" stroke-width="0.15">T</tspan><tspan dy="-1.8" dx="-0.8">=0.23</tspan></text>
<text x="607.50" y="67.80" font-size="9.8" text-anchor="middle" fill="#2f6db5" stroke="#2f6db5" stroke-width="0.3" transform="rotate(0.1 607.50 67.80)"><tspan font-style="italic">S</tspan><tspan font-size="6.3" dy="1.8" stroke-width="0.15">1</tspan><tspan dy="-1.8" dx="-0.45">=0.65</tspan></text>
<text x="607.50" y="79.40" font-size="9.8" text-anchor="middle" fill="#c9283e" stroke="#c9283e" stroke-width="0.3" transform="rotate(0.1 607.50 79.40)"><tspan font-style="italic">S</tspan><tspan font-size="6.3" dy="1.8" stroke-width="0.15">T</tspan><tspan dy="-1.8" dx="-0.8">=0.85</tspan></text>
</svg>
</body></html>
